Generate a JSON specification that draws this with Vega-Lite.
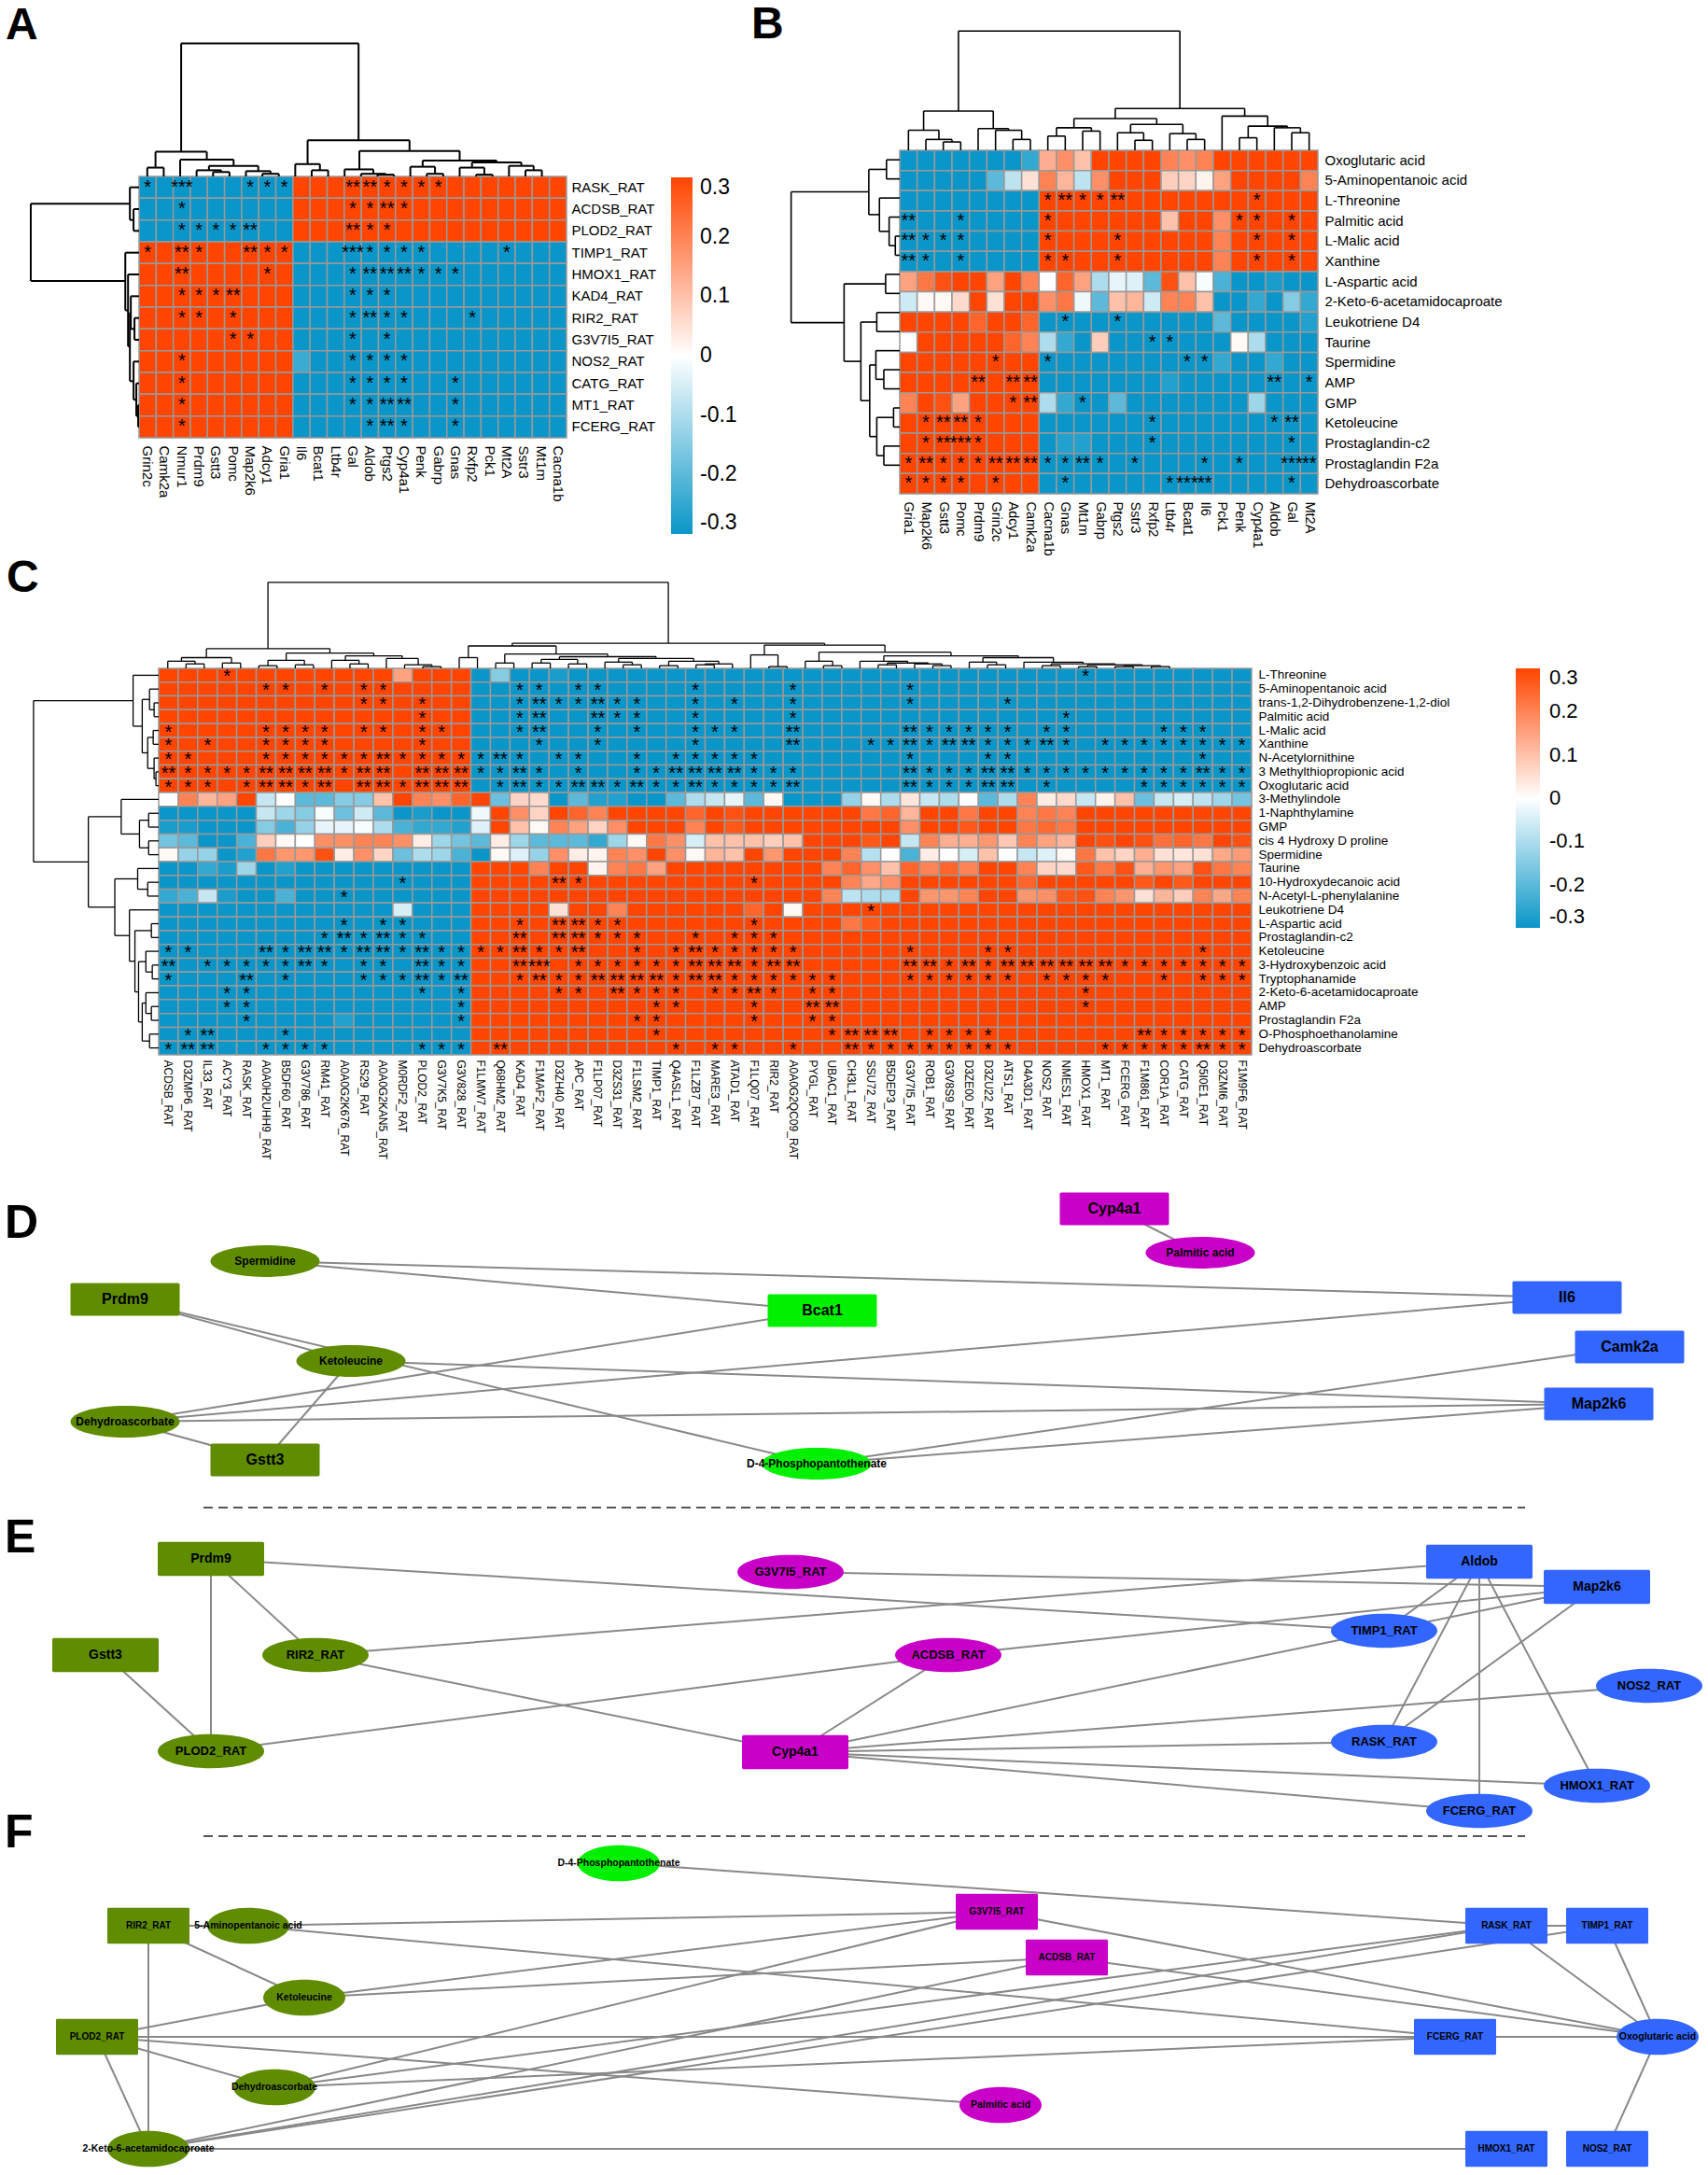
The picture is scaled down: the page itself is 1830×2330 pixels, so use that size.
{"$schema":"https://vega.github.io/schema/vega-lite/v6.json","padding":0,"spacing":0,"config":{"view":{"stroke":null},"font":"Liberation Sans","axis":{"labelFont":"Liberation Sans","labelColor":"#000","labelLimit":400},"legend":{"labelFont":"Liberation Sans","labelColor":"#000"}},
"vconcat":[{"spacing":0,"hconcat":[
{"width":800,"height":596,"title":{"text":"A","anchor":"start","frame":"group","offset":-52,"dx":6,"fontSize":48,"fontWeight":"bold","font":"Liberation Sans"},
"resolve":{"scale":{"x":"independent","y":"independent"},"axis":{"x":"independent","y":"independent"}},
"layer":[
{"data":{"values":[
{"r":0,"c":0,"v":-0.3,"s":"*"},{"r":0,"c":1,"v":-0.3},{"r":0,"c":2,"v":-0.3,"s":"***"},{"r":0,"c":3,"v":-0.3},{"r":0,"c":4,"v":-0.3},{"r":0,"c":5,"v":-0.3},{"r":0,"c":6,"v":-0.3,"s":"*"},{"r":0,"c":7,"v":-0.3,"s":"*"},{"r":0,"c":8,"v":-0.3,"s":"*"},{"r":0,"c":9,"v":0.3},{"r":0,"c":10,"v":0.3},{"r":0,"c":11,"v":0.3},{"r":0,"c":12,"v":0.3,"s":"**"},{"r":0,"c":13,"v":0.3,"s":"**"},{"r":0,"c":14,"v":0.3,"s":"*"},{"r":0,"c":15,"v":0.3,"s":"*"},{"r":0,"c":16,"v":0.3,"s":"*"},{"r":0,"c":17,"v":0.3,"s":"*"},{"r":0,"c":18,"v":0.3},{"r":0,"c":19,"v":0.3},{"r":0,"c":20,"v":0.3},{"r":0,"c":21,"v":0.3},{"r":0,"c":22,"v":0.3},{"r":0,"c":23,"v":0.3},{"r":0,"c":24,"v":0.3},
{"r":1,"c":0,"v":-0.3},{"r":1,"c":1,"v":-0.3},{"r":1,"c":2,"v":-0.3,"s":"*"},{"r":1,"c":3,"v":-0.3},{"r":1,"c":4,"v":-0.3},{"r":1,"c":5,"v":-0.3},{"r":1,"c":6,"v":-0.3},{"r":1,"c":7,"v":-0.3},{"r":1,"c":8,"v":-0.3},{"r":1,"c":9,"v":0.3},{"r":1,"c":10,"v":0.3},{"r":1,"c":11,"v":0.3},{"r":1,"c":12,"v":0.3,"s":"*"},{"r":1,"c":13,"v":0.3,"s":"*"},{"r":1,"c":14,"v":0.3,"s":"**"},{"r":1,"c":15,"v":0.3,"s":"*"},{"r":1,"c":16,"v":0.3},{"r":1,"c":17,"v":0.3},{"r":1,"c":18,"v":0.3},{"r":1,"c":19,"v":0.3},{"r":1,"c":20,"v":0.3},{"r":1,"c":21,"v":0.3},{"r":1,"c":22,"v":0.3},{"r":1,"c":23,"v":0.3},{"r":1,"c":24,"v":0.3},
{"r":2,"c":0,"v":-0.3},{"r":2,"c":1,"v":-0.3},{"r":2,"c":2,"v":-0.3,"s":"*"},{"r":2,"c":3,"v":-0.3,"s":"*"},{"r":2,"c":4,"v":-0.3,"s":"*"},{"r":2,"c":5,"v":-0.3,"s":"*"},{"r":2,"c":6,"v":-0.3,"s":"**"},{"r":2,"c":7,"v":-0.3},{"r":2,"c":8,"v":-0.3},{"r":2,"c":9,"v":0.3},{"r":2,"c":10,"v":0.3},{"r":2,"c":11,"v":0.3},{"r":2,"c":12,"v":0.3,"s":"**"},{"r":2,"c":13,"v":0.3,"s":"*"},{"r":2,"c":14,"v":0.3,"s":"*"},{"r":2,"c":15,"v":0.3},{"r":2,"c":16,"v":0.3},{"r":2,"c":17,"v":0.3},{"r":2,"c":18,"v":0.3},{"r":2,"c":19,"v":0.3},{"r":2,"c":20,"v":0.3},{"r":2,"c":21,"v":0.3},{"r":2,"c":22,"v":0.3},{"r":2,"c":23,"v":0.3},{"r":2,"c":24,"v":0.3},
{"r":3,"c":0,"v":0.3,"s":"*"},{"r":3,"c":1,"v":0.3},{"r":3,"c":2,"v":0.3,"s":"**"},{"r":3,"c":3,"v":0.3,"s":"*"},{"r":3,"c":4,"v":0.3},{"r":3,"c":5,"v":0.3},{"r":3,"c":6,"v":0.3,"s":"**"},{"r":3,"c":7,"v":0.3,"s":"*"},{"r":3,"c":8,"v":0.3,"s":"*"},{"r":3,"c":9,"v":-0.3},{"r":3,"c":10,"v":-0.3},{"r":3,"c":11,"v":-0.3},{"r":3,"c":12,"v":-0.3,"s":"***"},{"r":3,"c":13,"v":-0.3,"s":"*"},{"r":3,"c":14,"v":-0.3,"s":"*"},{"r":3,"c":15,"v":-0.3,"s":"*"},{"r":3,"c":16,"v":-0.3,"s":"*"},{"r":3,"c":17,"v":-0.3},{"r":3,"c":18,"v":-0.3},{"r":3,"c":19,"v":-0.3},{"r":3,"c":20,"v":-0.3},{"r":3,"c":21,"v":-0.3,"s":"*"},{"r":3,"c":22,"v":-0.3},{"r":3,"c":23,"v":-0.3},{"r":3,"c":24,"v":-0.3},
{"r":4,"c":0,"v":0.3},{"r":4,"c":1,"v":0.3},{"r":4,"c":2,"v":0.3,"s":"**"},{"r":4,"c":3,"v":0.3},{"r":4,"c":4,"v":0.3},{"r":4,"c":5,"v":0.3},{"r":4,"c":6,"v":0.3},{"r":4,"c":7,"v":0.3,"s":"*"},{"r":4,"c":8,"v":0.3},{"r":4,"c":9,"v":-0.3},{"r":4,"c":10,"v":-0.3},{"r":4,"c":11,"v":-0.3},{"r":4,"c":12,"v":-0.3,"s":"*"},{"r":4,"c":13,"v":-0.3,"s":"**"},{"r":4,"c":14,"v":-0.3,"s":"**"},{"r":4,"c":15,"v":-0.3,"s":"**"},{"r":4,"c":16,"v":-0.3,"s":"*"},{"r":4,"c":17,"v":-0.3,"s":"*"},{"r":4,"c":18,"v":-0.3,"s":"*"},{"r":4,"c":19,"v":-0.3},{"r":4,"c":20,"v":-0.3},{"r":4,"c":21,"v":-0.3},{"r":4,"c":22,"v":-0.3},{"r":4,"c":23,"v":-0.3},{"r":4,"c":24,"v":-0.3},
{"r":5,"c":0,"v":0.3},{"r":5,"c":1,"v":0.3},{"r":5,"c":2,"v":0.3,"s":"*"},{"r":5,"c":3,"v":0.3,"s":"*"},{"r":5,"c":4,"v":0.3,"s":"*"},{"r":5,"c":5,"v":0.3,"s":"**"},{"r":5,"c":6,"v":0.3},{"r":5,"c":7,"v":0.3},{"r":5,"c":8,"v":0.3},{"r":5,"c":9,"v":-0.3},{"r":5,"c":10,"v":-0.3},{"r":5,"c":11,"v":-0.3},{"r":5,"c":12,"v":-0.3,"s":"*"},{"r":5,"c":13,"v":-0.3,"s":"*"},{"r":5,"c":14,"v":-0.3,"s":"*"},{"r":5,"c":15,"v":-0.3},{"r":5,"c":16,"v":-0.3},{"r":5,"c":17,"v":-0.3},{"r":5,"c":18,"v":-0.3},{"r":5,"c":19,"v":-0.3},{"r":5,"c":20,"v":-0.3},{"r":5,"c":21,"v":-0.3},{"r":5,"c":22,"v":-0.3},{"r":5,"c":23,"v":-0.3},{"r":5,"c":24,"v":-0.3},
{"r":6,"c":0,"v":0.3},{"r":6,"c":1,"v":0.3},{"r":6,"c":2,"v":0.3,"s":"*"},{"r":6,"c":3,"v":0.3,"s":"*"},{"r":6,"c":4,"v":0.3},{"r":6,"c":5,"v":0.3,"s":"*"},{"r":6,"c":6,"v":0.3},{"r":6,"c":7,"v":0.3},{"r":6,"c":8,"v":0.3},{"r":6,"c":9,"v":-0.3},{"r":6,"c":10,"v":-0.3},{"r":6,"c":11,"v":-0.3},{"r":6,"c":12,"v":-0.3,"s":"*"},{"r":6,"c":13,"v":-0.3,"s":"**"},{"r":6,"c":14,"v":-0.3,"s":"*"},{"r":6,"c":15,"v":-0.3,"s":"*"},{"r":6,"c":16,"v":-0.3},{"r":6,"c":17,"v":-0.3},{"r":6,"c":18,"v":-0.3},{"r":6,"c":19,"v":-0.3,"s":"*"},{"r":6,"c":20,"v":-0.3},{"r":6,"c":21,"v":-0.3},{"r":6,"c":22,"v":-0.3},{"r":6,"c":23,"v":-0.3},{"r":6,"c":24,"v":-0.3},
{"r":7,"c":0,"v":0.3},{"r":7,"c":1,"v":0.3},{"r":7,"c":2,"v":0.3},{"r":7,"c":3,"v":0.3},{"r":7,"c":4,"v":0.3},{"r":7,"c":5,"v":0.3,"s":"*"},{"r":7,"c":6,"v":0.3,"s":"*"},{"r":7,"c":7,"v":0.3},{"r":7,"c":8,"v":0.3},{"r":7,"c":9,"v":-0.3},{"r":7,"c":10,"v":-0.3},{"r":7,"c":11,"v":-0.3},{"r":7,"c":12,"v":-0.3,"s":"*"},{"r":7,"c":13,"v":-0.3},{"r":7,"c":14,"v":-0.3,"s":"*"},{"r":7,"c":15,"v":-0.3},{"r":7,"c":16,"v":-0.3},{"r":7,"c":17,"v":-0.3},{"r":7,"c":18,"v":-0.3},{"r":7,"c":19,"v":-0.3},{"r":7,"c":20,"v":-0.3},{"r":7,"c":21,"v":-0.3},{"r":7,"c":22,"v":-0.3},{"r":7,"c":23,"v":-0.3},{"r":7,"c":24,"v":-0.3},
{"r":8,"c":0,"v":0.3},{"r":8,"c":1,"v":0.3},{"r":8,"c":2,"v":0.3,"s":"*"},{"r":8,"c":3,"v":0.3},{"r":8,"c":4,"v":0.3},{"r":8,"c":5,"v":0.3},{"r":8,"c":6,"v":0.3},{"r":8,"c":7,"v":0.3},{"r":8,"c":8,"v":0.3},{"r":8,"c":9,"v":-0.24},{"r":8,"c":10,"v":-0.3},{"r":8,"c":11,"v":-0.3},{"r":8,"c":12,"v":-0.3,"s":"*"},{"r":8,"c":13,"v":-0.3,"s":"*"},{"r":8,"c":14,"v":-0.3,"s":"*"},{"r":8,"c":15,"v":-0.3,"s":"*"},{"r":8,"c":16,"v":-0.3},{"r":8,"c":17,"v":-0.3},{"r":8,"c":18,"v":-0.3},{"r":8,"c":19,"v":-0.3},{"r":8,"c":20,"v":-0.3},{"r":8,"c":21,"v":-0.3},{"r":8,"c":22,"v":-0.3},{"r":8,"c":23,"v":-0.3},{"r":8,"c":24,"v":-0.3},
{"r":9,"c":0,"v":0.3},{"r":9,"c":1,"v":0.3},{"r":9,"c":2,"v":0.3,"s":"*"},{"r":9,"c":3,"v":0.3},{"r":9,"c":4,"v":0.3},{"r":9,"c":5,"v":0.3},{"r":9,"c":6,"v":0.3},{"r":9,"c":7,"v":0.3},{"r":9,"c":8,"v":0.3},{"r":9,"c":9,"v":-0.3},{"r":9,"c":10,"v":-0.3},{"r":9,"c":11,"v":-0.3},{"r":9,"c":12,"v":-0.3,"s":"*"},{"r":9,"c":13,"v":-0.3,"s":"*"},{"r":9,"c":14,"v":-0.3,"s":"*"},{"r":9,"c":15,"v":-0.3,"s":"*"},{"r":9,"c":16,"v":-0.3},{"r":9,"c":17,"v":-0.3},{"r":9,"c":18,"v":-0.3,"s":"*"},{"r":9,"c":19,"v":-0.3},{"r":9,"c":20,"v":-0.3},{"r":9,"c":21,"v":-0.3},{"r":9,"c":22,"v":-0.3},{"r":9,"c":23,"v":-0.3},{"r":9,"c":24,"v":-0.3},
{"r":10,"c":0,"v":0.3},{"r":10,"c":1,"v":0.3},{"r":10,"c":2,"v":0.3,"s":"*"},{"r":10,"c":3,"v":0.3},{"r":10,"c":4,"v":0.3},{"r":10,"c":5,"v":0.3},{"r":10,"c":6,"v":0.3},{"r":10,"c":7,"v":0.3},{"r":10,"c":8,"v":0.3},{"r":10,"c":9,"v":-0.3},{"r":10,"c":10,"v":-0.3},{"r":10,"c":11,"v":-0.3},{"r":10,"c":12,"v":-0.3,"s":"*"},{"r":10,"c":13,"v":-0.3,"s":"*"},{"r":10,"c":14,"v":-0.3,"s":"**"},{"r":10,"c":15,"v":-0.3,"s":"**"},{"r":10,"c":16,"v":-0.3},{"r":10,"c":17,"v":-0.3},{"r":10,"c":18,"v":-0.3,"s":"*"},{"r":10,"c":19,"v":-0.3},{"r":10,"c":20,"v":-0.3},{"r":10,"c":21,"v":-0.3},{"r":10,"c":22,"v":-0.3},{"r":10,"c":23,"v":-0.3},{"r":10,"c":24,"v":-0.3},
{"r":11,"c":0,"v":0.3},{"r":11,"c":1,"v":0.3},{"r":11,"c":2,"v":0.3,"s":"*"},{"r":11,"c":3,"v":0.3},{"r":11,"c":4,"v":0.3},{"r":11,"c":5,"v":0.3},{"r":11,"c":6,"v":0.3},{"r":11,"c":7,"v":0.3},{"r":11,"c":8,"v":0.3},{"r":11,"c":9,"v":-0.3},{"r":11,"c":10,"v":-0.3},{"r":11,"c":11,"v":-0.3},{"r":11,"c":12,"v":-0.3},{"r":11,"c":13,"v":-0.3,"s":"*"},{"r":11,"c":14,"v":-0.3,"s":"**"},{"r":11,"c":15,"v":-0.3,"s":"*"},{"r":11,"c":16,"v":-0.3},{"r":11,"c":17,"v":-0.3},{"r":11,"c":18,"v":-0.3,"s":"*"},{"r":11,"c":19,"v":-0.3},{"r":11,"c":20,"v":-0.3},{"r":11,"c":21,"v":-0.3},{"r":11,"c":22,"v":-0.3},{"r":11,"c":23,"v":-0.3},{"r":11,"c":24,"v":-0.3}
]},
"layer":[{"mark":{"type":"rect","stroke":"#999","strokeWidth":1.5},"encoding":{
"x":{"field":"c","type":"ordinal","scale":{"domain":[0,1,2,3,4,5,6,7,8,9,10,11,12,13,14,15,16,17,18,19,20,21,22,23,24],"range":[149,607]},"axis":{"orient":"bottom","title":null,"domain":false,"ticks":false,"labelAngle":90,"labelFontSize":15,"labelPadding":8,"offset":-127,"labelExpr":"['Grin2c','Camk2a','Nmur1','Prdm9','Gstt3','Pomc','Map2k6','Adcy1','Gria1','Il6','Bcat1','Ltb4r','Gal','Aldob','Ptgs2','Cyp4a1','Penk','Gabrp','Gnas','Rxfp2','Pck1','Mt2A','Sstr3','Mt1m','Cacna1b'][datum.value]"}},
"y":{"field":"r","type":"ordinal","scale":{"domain":[0,1,2,3,4,5,6,7,8,9,10,11],"range":[189,469]},"axis":{"orient":"right","title":null,"domain":false,"ticks":false,"labelFontSize":15,"labelPadding":5,"offset":-193,"labelExpr":"['RASK_RAT','ACDSB_RAT','PLOD2_RAT','TIMP1_RAT','HMOX1_RAT','KAD4_RAT','RIR2_RAT','G3V7I5_RAT','NOS2_RAT','CATG_RAT','MT1_RAT','FCERG_RAT'][datum.value]"}},
"color":{"field":"v","type":"quantitative","scale":{"domain":[-0.3,0,0.3],"range":["#0a96c8","#ffffff","#ff4500"],"clamp":true,"interpolate":"rgb"},"legend":{"orient":"none","legendX":719,"legendY":190,"direction":"vertical","title":null,"gradientLength":382,"gradientThickness":23,"labelFontSize":23,"labelOffset":8,"labelBaseline":"middle","labelOverlap":false,"values":[-0.3,-0.2,-0.1,0,0.1,0.2,0.3],"labelExpr":"''+datum.value"}}}},
{"transform":[{"filter":"datum.s"}],"mark":{"type":"text","fontSize":20,"baseline":"middle","color":"#000"},"encoding":{"x":{"field":"c","type":"ordinal"},"y":{"field":"r","type":"ordinal"},"text":{"field":"s"}}}]},
{"data":{"values":[{"a":0.5,"b":1.5,"h":10,"ha":0,"hb":0},{"a":4.5,"b":5.5,"h":5,"ha":0,"hb":0},{"a":3.5,"b":5,"h":7,"ha":0,"hb":5},{"a":7.5,"b":8.5,"h":3,"ha":0,"hb":0},{"a":6.5,"b":8,"h":6,"ha":0,"hb":3},{"a":4.25,"b":7.25,"h":12,"ha":7,"hb":6},{"a":2.5,"b":5.75,"h":19,"ha":0,"hb":12},{"a":1,"b":4.12,"h":28,"ha":10,"hb":19},{"a":10.5,"b":11.5,"h":7,"ha":0,"hb":0},{"a":9.5,"b":11,"h":14,"ha":0,"hb":7},{"a":14.5,"b":15.5,"h":2,"ha":0,"hb":0},{"a":13.5,"b":15,"h":3,"ha":0,"hb":2},{"a":12.5,"b":14.25,"h":8,"ha":0,"hb":3},{"a":17.5,"b":18.5,"h":3,"ha":0,"hb":0},{"a":16.5,"b":18,"h":11,"ha":0,"hb":3},{"a":20.5,"b":21.5,"h":2,"ha":0,"hb":0},{"a":19.5,"b":21,"h":10,"ha":0,"hb":2},{"a":23.5,"b":24.5,"h":7,"ha":0,"hb":0},{"a":22.5,"b":24,"h":12,"ha":0,"hb":7},{"a":20.25,"b":23.25,"h":16,"ha":10,"hb":12},{"a":17.25,"b":21.75,"h":18,"ha":11,"hb":16},{"a":13.4,"b":19.5,"h":29,"ha":8,"hb":18},{"a":10.25,"b":16.45,"h":41,"ha":14,"hb":29},{"a":2.56,"b":13.35,"h":151,"ha":28,"hb":41}]},
"layer":[{"mark":{"type":"rule","stroke":"#000","strokeWidth":2},"encoding":{"x":{"field":"a","type":"quantitative","scale":{"domain":[0,25],"range":[149,607]},"axis":null},"x2":{"field":"b"},"y":{"field":"h","type":"quantitative","scale":{"domain":[0,151],"range":[189,38]},"axis":null}}},
{"mark":{"type":"rule","stroke":"#000","strokeWidth":2},"encoding":{"x":{"field":"a","type":"quantitative"},"y":{"field":"h","type":"quantitative"},"y2":{"field":"ha"}}},
{"mark":{"type":"rule","stroke":"#000","strokeWidth":2},"encoding":{"x":{"field":"b","type":"quantitative"},"y":{"field":"h","type":"quantitative"},"y2":{"field":"hb"}}}]},
{"data":{"values":[{"a":1.5,"b":2.5,"h":6,"ha":0,"hb":0},{"a":0.5,"b":2,"h":10,"ha":0,"hb":6},{"a":10.5,"b":11.5,"h":1,"ha":0,"hb":0},{"a":9.5,"b":11,"h":3,"ha":0,"hb":1},{"a":8.5,"b":10.25,"h":6,"ha":0,"hb":3},{"a":6.5,"b":7.5,"h":5,"ha":0,"hb":0},{"a":5.5,"b":7,"h":9,"ha":0,"hb":5},{"a":6.25,"b":9.4,"h":10,"ha":9,"hb":6},{"a":4.5,"b":7.8,"h":12,"ha":0,"hb":10},{"a":3.5,"b":6.15,"h":15,"ha":0,"hb":12},{"a":1.25,"b":4.8,"h":118,"ha":10,"hb":15}]},
"layer":[{"mark":{"type":"rule","stroke":"#000","strokeWidth":2},"encoding":{"y":{"field":"a","type":"quantitative","scale":{"domain":[0,12],"range":[189,469]},"axis":null},"y2":{"field":"b"},"x":{"field":"h","type":"quantitative","scale":{"domain":[0,118],"range":[149,31]},"axis":null}}},
{"mark":{"type":"rule","stroke":"#000","strokeWidth":2},"encoding":{"y":{"field":"a","type":"quantitative"},"x":{"field":"h","type":"quantitative"},"x2":{"field":"ha"}}},
{"mark":{"type":"rule","stroke":"#000","strokeWidth":2},"encoding":{"y":{"field":"b","type":"quantitative"},"x":{"field":"h","type":"quantitative"},"x2":{"field":"hb"}}}]}
]},
{"width":1030,"height":596,"title":{"text":"B","anchor":"start","frame":"group","offset":-51,"dx":5,"fontSize":48,"fontWeight":"bold","font":"Liberation Sans"},
"resolve":{"scale":{"x":"independent","y":"independent"},"axis":{"x":"independent","y":"independent"}},
"layer":[
{"data":{"values":[
{"r":0,"c":0,"v":-0.3},{"r":0,"c":1,"v":-0.3},{"r":0,"c":2,"v":-0.3},{"r":0,"c":3,"v":-0.3},{"r":0,"c":4,"v":-0.3},{"r":0,"c":5,"v":-0.3},{"r":0,"c":6,"v":-0.3},{"r":0,"c":7,"v":-0.25},{"r":0,"c":8,"v":0.13},{"r":0,"c":9,"v":0.18},{"r":0,"c":10,"v":0.1},{"r":0,"c":11,"v":0.3},{"r":0,"c":12,"v":0.3},{"r":0,"c":13,"v":0.3},{"r":0,"c":14,"v":0.3},{"r":0,"c":15,"v":0.2},{"r":0,"c":16,"v":0.18},{"r":0,"c":17,"v":0.2},{"r":0,"c":18,"v":0.3},{"r":0,"c":19,"v":0.3},{"r":0,"c":20,"v":0.3},{"r":0,"c":21,"v":0.3},{"r":0,"c":22,"v":0.3},{"r":0,"c":23,"v":0.3},
{"r":1,"c":0,"v":-0.3},{"r":1,"c":1,"v":-0.3},{"r":1,"c":2,"v":-0.3},{"r":1,"c":3,"v":-0.3},{"r":1,"c":4,"v":-0.3},{"r":1,"c":5,"v":-0.2},{"r":1,"c":6,"v":-0.08},{"r":1,"c":7,"v":0.05},{"r":1,"c":8,"v":0.2},{"r":1,"c":9,"v":0.12},{"r":1,"c":10,"v":-0.08},{"r":1,"c":11,"v":0.18},{"r":1,"c":12,"v":0.3},{"r":1,"c":13,"v":0.3},{"r":1,"c":14,"v":0.3},{"r":1,"c":15,"v":0.08},{"r":1,"c":16,"v":0.07},{"r":1,"c":17,"v":0.02},{"r":1,"c":18,"v":0.15},{"r":1,"c":19,"v":0.3},{"r":1,"c":20,"v":0.3},{"r":1,"c":21,"v":0.3},{"r":1,"c":22,"v":0.3},{"r":1,"c":23,"v":0.2},
{"r":2,"c":0,"v":-0.3},{"r":2,"c":1,"v":-0.3},{"r":2,"c":2,"v":-0.3},{"r":2,"c":3,"v":-0.3},{"r":2,"c":4,"v":-0.3},{"r":2,"c":5,"v":-0.3},{"r":2,"c":6,"v":-0.3},{"r":2,"c":7,"v":-0.3},{"r":2,"c":8,"v":0.3,"s":"*"},{"r":2,"c":9,"v":0.3,"s":"**"},{"r":2,"c":10,"v":0.3,"s":"*"},{"r":2,"c":11,"v":0.3,"s":"*"},{"r":2,"c":12,"v":0.3,"s":"**"},{"r":2,"c":13,"v":0.3},{"r":2,"c":14,"v":0.3},{"r":2,"c":15,"v":0.3},{"r":2,"c":16,"v":0.3},{"r":2,"c":17,"v":0.3},{"r":2,"c":18,"v":0.3},{"r":2,"c":19,"v":0.3},{"r":2,"c":20,"v":0.3,"s":"*"},{"r":2,"c":21,"v":0.3},{"r":2,"c":22,"v":0.3},{"r":2,"c":23,"v":0.3},
{"r":3,"c":0,"v":-0.3,"s":"**"},{"r":3,"c":1,"v":-0.3},{"r":3,"c":2,"v":-0.3},{"r":3,"c":3,"v":-0.3,"s":"*"},{"r":3,"c":4,"v":-0.3},{"r":3,"c":5,"v":-0.3},{"r":3,"c":6,"v":-0.3},{"r":3,"c":7,"v":-0.3},{"r":3,"c":8,"v":0.3,"s":"*"},{"r":3,"c":9,"v":0.3},{"r":3,"c":10,"v":0.3},{"r":3,"c":11,"v":0.3},{"r":3,"c":12,"v":0.3},{"r":3,"c":13,"v":0.3},{"r":3,"c":14,"v":0.3},{"r":3,"c":15,"v":0.1},{"r":3,"c":16,"v":0.3},{"r":3,"c":17,"v":0.3},{"r":3,"c":18,"v":0.18},{"r":3,"c":19,"v":0.3,"s":"*"},{"r":3,"c":20,"v":0.3,"s":"*"},{"r":3,"c":21,"v":0.3},{"r":3,"c":22,"v":0.3,"s":"*"},{"r":3,"c":23,"v":0.3},
{"r":4,"c":0,"v":-0.3,"s":"**"},{"r":4,"c":1,"v":-0.3,"s":"*"},{"r":4,"c":2,"v":-0.3,"s":"*"},{"r":4,"c":3,"v":-0.3,"s":"*"},{"r":4,"c":4,"v":-0.3},{"r":4,"c":5,"v":-0.3},{"r":4,"c":6,"v":-0.3},{"r":4,"c":7,"v":-0.3},{"r":4,"c":8,"v":0.3,"s":"*"},{"r":4,"c":9,"v":0.3},{"r":4,"c":10,"v":0.3},{"r":4,"c":11,"v":0.3},{"r":4,"c":12,"v":0.3,"s":"*"},{"r":4,"c":13,"v":0.3},{"r":4,"c":14,"v":0.3},{"r":4,"c":15,"v":0.3},{"r":4,"c":16,"v":0.3},{"r":4,"c":17,"v":0.3},{"r":4,"c":18,"v":0.2},{"r":4,"c":19,"v":0.3},{"r":4,"c":20,"v":0.3,"s":"*"},{"r":4,"c":21,"v":0.3},{"r":4,"c":22,"v":0.3,"s":"*"},{"r":4,"c":23,"v":0.3},
{"r":5,"c":0,"v":-0.3,"s":"**"},{"r":5,"c":1,"v":-0.3,"s":"*"},{"r":5,"c":2,"v":-0.3},{"r":5,"c":3,"v":-0.3,"s":"*"},{"r":5,"c":4,"v":-0.3},{"r":5,"c":5,"v":-0.3},{"r":5,"c":6,"v":-0.3},{"r":5,"c":7,"v":-0.3},{"r":5,"c":8,"v":0.3,"s":"*"},{"r":5,"c":9,"v":0.3,"s":"*"},{"r":5,"c":10,"v":0.3},{"r":5,"c":11,"v":0.3},{"r":5,"c":12,"v":0.3,"s":"*"},{"r":5,"c":13,"v":0.3},{"r":5,"c":14,"v":0.3},{"r":5,"c":15,"v":0.3},{"r":5,"c":16,"v":0.3},{"r":5,"c":17,"v":0.3},{"r":5,"c":18,"v":0.2},{"r":5,"c":19,"v":0.3},{"r":5,"c":20,"v":0.3,"s":"*"},{"r":5,"c":21,"v":0.3},{"r":5,"c":22,"v":0.3,"s":"*"},{"r":5,"c":23,"v":0.3},
{"r":6,"c":0,"v":0.15},{"r":6,"c":1,"v":0.22},{"r":6,"c":2,"v":0.28},{"r":6,"c":3,"v":0.3},{"r":6,"c":4,"v":0.3},{"r":6,"c":5,"v":0.15},{"r":6,"c":6,"v":0.3},{"r":6,"c":7,"v":0.2},{"r":6,"c":8,"v":0},{"r":6,"c":9,"v":0.25},{"r":6,"c":10,"v":0.15},{"r":6,"c":11,"v":-0.1},{"r":6,"c":12,"v":-0.03},{"r":6,"c":13,"v":-0.04},{"r":6,"c":14,"v":-0.2},{"r":6,"c":15,"v":0.28},{"r":6,"c":16,"v":0.1},{"r":6,"c":17,"v":-0.01},{"r":6,"c":18,"v":-0.22},{"r":6,"c":19,"v":-0.3},{"r":6,"c":20,"v":-0.3},{"r":6,"c":21,"v":-0.28},{"r":6,"c":22,"v":-0.3},{"r":6,"c":23,"v":-0.3},
{"r":7,"c":0,"v":-0.06},{"r":7,"c":1,"v":0.01},{"r":7,"c":2,"v":0.01},{"r":7,"c":3,"v":0.06},{"r":7,"c":4,"v":0.3},{"r":7,"c":5,"v":0.05},{"r":7,"c":6,"v":0.3},{"r":7,"c":7,"v":0.3},{"r":7,"c":8,"v":0.18},{"r":7,"c":9,"v":0.22},{"r":7,"c":10,"v":-0.02},{"r":7,"c":11,"v":-0.2},{"r":7,"c":12,"v":0.1},{"r":7,"c":13,"v":0.12},{"r":7,"c":14,"v":-0.06},{"r":7,"c":15,"v":0.2},{"r":7,"c":16,"v":0.2},{"r":7,"c":17,"v":0.1},{"r":7,"c":18,"v":-0.3},{"r":7,"c":19,"v":-0.3},{"r":7,"c":20,"v":-0.25},{"r":7,"c":21,"v":-0.3},{"r":7,"c":22,"v":-0.15},{"r":7,"c":23,"v":-0.25},
{"r":8,"c":0,"v":0.3},{"r":8,"c":1,"v":0.3},{"r":8,"c":2,"v":0.3},{"r":8,"c":3,"v":0.3},{"r":8,"c":4,"v":0.25},{"r":8,"c":5,"v":0.3},{"r":8,"c":6,"v":0.3},{"r":8,"c":7,"v":0.25},{"r":8,"c":8,"v":-0.3},{"r":8,"c":9,"v":-0.3,"s":"*"},{"r":8,"c":10,"v":-0.3},{"r":8,"c":11,"v":-0.3},{"r":8,"c":12,"v":-0.3,"s":"*"},{"r":8,"c":13,"v":-0.3},{"r":8,"c":14,"v":-0.3},{"r":8,"c":15,"v":-0.3},{"r":8,"c":16,"v":-0.3},{"r":8,"c":17,"v":-0.3},{"r":8,"c":18,"v":-0.2},{"r":8,"c":19,"v":-0.3},{"r":8,"c":20,"v":-0.3},{"r":8,"c":21,"v":-0.3},{"r":8,"c":22,"v":-0.3},{"r":8,"c":23,"v":-0.27},
{"r":9,"c":0,"v":0},{"r":9,"c":1,"v":0.3},{"r":9,"c":2,"v":0.3},{"r":9,"c":3,"v":0.3},{"r":9,"c":4,"v":0.3},{"r":9,"c":5,"v":0.3},{"r":9,"c":6,"v":0.25},{"r":9,"c":7,"v":0.2},{"r":9,"c":8,"v":-0.1},{"r":9,"c":9,"v":-0.25},{"r":9,"c":10,"v":-0.3},{"r":9,"c":11,"v":0.08},{"r":9,"c":12,"v":-0.3},{"r":9,"c":13,"v":-0.3},{"r":9,"c":14,"v":-0.3,"s":"*"},{"r":9,"c":15,"v":-0.3,"s":"*"},{"r":9,"c":16,"v":-0.3},{"r":9,"c":17,"v":-0.3},{"r":9,"c":18,"v":-0.3},{"r":9,"c":19,"v":0.01},{"r":9,"c":20,"v":-0.1},{"r":9,"c":21,"v":-0.3},{"r":9,"c":22,"v":-0.3},{"r":9,"c":23,"v":-0.3},
{"r":10,"c":0,"v":0.3},{"r":10,"c":1,"v":0.3},{"r":10,"c":2,"v":0.3},{"r":10,"c":3,"v":0.3},{"r":10,"c":4,"v":0.3},{"r":10,"c":5,"v":0.3,"s":"*"},{"r":10,"c":6,"v":0.3},{"r":10,"c":7,"v":0.3},{"r":10,"c":8,"v":-0.3,"s":"*"},{"r":10,"c":9,"v":-0.3},{"r":10,"c":10,"v":-0.3},{"r":10,"c":11,"v":-0.3},{"r":10,"c":12,"v":-0.3},{"r":10,"c":13,"v":-0.3},{"r":10,"c":14,"v":-0.3},{"r":10,"c":15,"v":-0.3},{"r":10,"c":16,"v":-0.3,"s":"*"},{"r":10,"c":17,"v":-0.3,"s":"*"},{"r":10,"c":18,"v":-0.25},{"r":10,"c":19,"v":-0.3},{"r":10,"c":20,"v":-0.3},{"r":10,"c":21,"v":-0.25},{"r":10,"c":22,"v":-0.3},{"r":10,"c":23,"v":-0.3},
{"r":11,"c":0,"v":0.3},{"r":11,"c":1,"v":0.3},{"r":11,"c":2,"v":0.3},{"r":11,"c":3,"v":0.3},{"r":11,"c":4,"v":0.3,"s":"**"},{"r":11,"c":5,"v":0.3},{"r":11,"c":6,"v":0.3,"s":"**"},{"r":11,"c":7,"v":0.3,"s":"**"},{"r":11,"c":8,"v":-0.3},{"r":11,"c":9,"v":-0.3},{"r":11,"c":10,"v":-0.3},{"r":11,"c":11,"v":-0.3},{"r":11,"c":12,"v":-0.3},{"r":11,"c":13,"v":-0.3},{"r":11,"c":14,"v":-0.3},{"r":11,"c":15,"v":-0.27},{"r":11,"c":16,"v":-0.3},{"r":11,"c":17,"v":-0.3},{"r":11,"c":18,"v":-0.3},{"r":11,"c":19,"v":-0.3},{"r":11,"c":20,"v":-0.3},{"r":11,"c":21,"v":-0.3,"s":"**"},{"r":11,"c":22,"v":-0.3},{"r":11,"c":23,"v":-0.3,"s":"*"},
{"r":12,"c":0,"v":0.2},{"r":12,"c":1,"v":0.3},{"r":12,"c":2,"v":0.28},{"r":12,"c":3,"v":0.15},{"r":12,"c":4,"v":0.3},{"r":12,"c":5,"v":0.3},{"r":12,"c":6,"v":0.3,"s":"*"},{"r":12,"c":7,"v":0.3,"s":"**"},{"r":12,"c":8,"v":-0.1},{"r":12,"c":9,"v":-0.25},{"r":12,"c":10,"v":-0.3,"s":"*"},{"r":12,"c":11,"v":-0.3},{"r":12,"c":12,"v":-0.2},{"r":12,"c":13,"v":-0.3},{"r":12,"c":14,"v":-0.3},{"r":12,"c":15,"v":-0.3},{"r":12,"c":16,"v":-0.3},{"r":12,"c":17,"v":-0.3},{"r":12,"c":18,"v":-0.3},{"r":12,"c":19,"v":-0.3},{"r":12,"c":20,"v":-0.12},{"r":12,"c":21,"v":-0.3},{"r":12,"c":22,"v":-0.3},{"r":12,"c":23,"v":-0.3},
{"r":13,"c":0,"v":0.3},{"r":13,"c":1,"v":0.3,"s":"*"},{"r":13,"c":2,"v":0.3,"s":"**"},{"r":13,"c":3,"v":0.3,"s":"**"},{"r":13,"c":4,"v":0.3,"s":"*"},{"r":13,"c":5,"v":0.3},{"r":13,"c":6,"v":0.3},{"r":13,"c":7,"v":0.3},{"r":13,"c":8,"v":-0.3},{"r":13,"c":9,"v":-0.3},{"r":13,"c":10,"v":-0.3},{"r":13,"c":11,"v":-0.3},{"r":13,"c":12,"v":-0.3},{"r":13,"c":13,"v":-0.3},{"r":13,"c":14,"v":-0.3,"s":"*"},{"r":13,"c":15,"v":-0.3},{"r":13,"c":16,"v":-0.3},{"r":13,"c":17,"v":-0.3},{"r":13,"c":18,"v":-0.3},{"r":13,"c":19,"v":-0.3},{"r":13,"c":20,"v":-0.3},{"r":13,"c":21,"v":-0.3,"s":"*"},{"r":13,"c":22,"v":-0.3,"s":"**"},{"r":13,"c":23,"v":-0.3},
{"r":14,"c":0,"v":0.3},{"r":14,"c":1,"v":0.3,"s":"*"},{"r":14,"c":2,"v":0.3,"s":"**"},{"r":14,"c":3,"v":0.3,"s":"***"},{"r":14,"c":4,"v":0.3,"s":"*"},{"r":14,"c":5,"v":0.3},{"r":14,"c":6,"v":0.3},{"r":14,"c":7,"v":0.3},{"r":14,"c":8,"v":-0.3},{"r":14,"c":9,"v":-0.27},{"r":14,"c":10,"v":-0.27},{"r":14,"c":11,"v":-0.3},{"r":14,"c":12,"v":-0.3},{"r":14,"c":13,"v":-0.3},{"r":14,"c":14,"v":-0.3,"s":"*"},{"r":14,"c":15,"v":-0.3},{"r":14,"c":16,"v":-0.3},{"r":14,"c":17,"v":-0.3},{"r":14,"c":18,"v":-0.3},{"r":14,"c":19,"v":-0.3},{"r":14,"c":20,"v":-0.3},{"r":14,"c":21,"v":-0.3},{"r":14,"c":22,"v":-0.3,"s":"*"},{"r":14,"c":23,"v":-0.3},
{"r":15,"c":0,"v":0.3,"s":"*"},{"r":15,"c":1,"v":0.3,"s":"**"},{"r":15,"c":2,"v":0.3,"s":"*"},{"r":15,"c":3,"v":0.3,"s":"*"},{"r":15,"c":4,"v":0.3,"s":"*"},{"r":15,"c":5,"v":0.3,"s":"**"},{"r":15,"c":6,"v":0.3,"s":"**"},{"r":15,"c":7,"v":0.3,"s":"**"},{"r":15,"c":8,"v":-0.3,"s":"*"},{"r":15,"c":9,"v":-0.3,"s":"*"},{"r":15,"c":10,"v":-0.3,"s":"**"},{"r":15,"c":11,"v":-0.3,"s":"*"},{"r":15,"c":12,"v":-0.3},{"r":15,"c":13,"v":-0.3,"s":"*"},{"r":15,"c":14,"v":-0.3},{"r":15,"c":15,"v":-0.3},{"r":15,"c":16,"v":-0.3},{"r":15,"c":17,"v":-0.3,"s":"*"},{"r":15,"c":18,"v":-0.3},{"r":15,"c":19,"v":-0.3,"s":"*"},{"r":15,"c":20,"v":-0.3},{"r":15,"c":21,"v":-0.3},{"r":15,"c":22,"v":-0.3,"s":"***"},{"r":15,"c":23,"v":-0.3,"s":"**"},
{"r":16,"c":0,"v":0.3,"s":"*"},{"r":16,"c":1,"v":0.3,"s":"*"},{"r":16,"c":2,"v":0.3,"s":"*"},{"r":16,"c":3,"v":0.3,"s":"*"},{"r":16,"c":4,"v":0.3},{"r":16,"c":5,"v":0.3,"s":"*"},{"r":16,"c":6,"v":0.3},{"r":16,"c":7,"v":0.3},{"r":16,"c":8,"v":-0.3},{"r":16,"c":9,"v":-0.3,"s":"*"},{"r":16,"c":10,"v":-0.3},{"r":16,"c":11,"v":-0.3},{"r":16,"c":12,"v":-0.3},{"r":16,"c":13,"v":-0.3},{"r":16,"c":14,"v":-0.3},{"r":16,"c":15,"v":-0.3,"s":"*"},{"r":16,"c":16,"v":-0.3,"s":"***"},{"r":16,"c":17,"v":-0.3,"s":"**"},{"r":16,"c":18,"v":-0.3},{"r":16,"c":19,"v":-0.3},{"r":16,"c":20,"v":-0.3},{"r":16,"c":21,"v":-0.3},{"r":16,"c":22,"v":-0.3,"s":"*"},{"r":16,"c":23,"v":-0.3}
]},
"layer":[{"mark":{"type":"rect","stroke":"#999","strokeWidth":1.5},"encoding":{
"x":{"field":"c","type":"ordinal","scale":{"domain":[0,1,2,3,4,5,6,7,8,9,10,11,12,13,14,15,16,17,18,19,20,21,22,23],"range":[164,612]},"axis":{"orient":"bottom","title":null,"domain":false,"ticks":false,"labelAngle":90,"labelFontSize":14.5,"labelPadding":8,"offset":-67,"labelExpr":"['Gria1','Map2k6','Gstt3','Pomc','Prdm9','Grin2c','Adcy1','Camk2a','Cacna1b','Gnas','Mt1m','Gabrp','Ptgs2','Sstr3','Rxfp2','Ltb4r','Bcat1','Il6','Pck1','Penk','Cyp4a1','Aldob','Gal','Mt2A'][datum.value]"}},
"y":{"field":"r","type":"ordinal","scale":{"domain":[0,1,2,3,4,5,6,7,8,9,10,11,12,13,14,15,16],"range":[161,529]},"axis":{"orient":"right","title":null,"domain":false,"ticks":false,"labelFontSize":15,"labelPadding":7,"offset":-418,"labelExpr":"['Oxoglutaric acid','5-Aminopentanoic acid','L-Threonine','Palmitic acid','L-Malic acid','Xanthine','L-Aspartic acid','2-Keto-6-acetamidocaproate','Leukotriene D4','Taurine','Spermidine','AMP','GMP','Ketoleucine','Prostaglandin-c2','Prostaglandin F2a','Dehydroascorbate'][datum.value]"}},
"color":{"field":"v","type":"quantitative","scale":{"domain":[-0.3,0,0.3],"range":["#0a96c8","#ffffff","#ff4500"],"clamp":true,"interpolate":"rgb"},"legend":{"orient":"none","legendX":828,"legendY":161,"direction":"vertical","title":null,"gradientLength":404,"gradientThickness":23,"labelFontSize":23,"labelOffset":8,"labelBaseline":"middle","labelOverlap":false,"values":[-0.3,-0.2,-0.1,0,0.1,0.2,0.3],"labelExpr":"''+datum.value"}}}},
{"transform":[{"filter":"datum.s"}],"mark":{"type":"text","fontSize":20,"baseline":"middle","color":"#000"},"encoding":{"x":{"field":"c","type":"ordinal"},"y":{"field":"r","type":"ordinal"},"text":{"field":"s"}}}]},
{"data":{"values":[{"a":2.5,"b":3.5,"h":10,"ha":0,"hb":0},{"a":1.5,"b":3,"h":13,"ha":0,"hb":10},{"a":0.5,"b":2.25,"h":24,"ha":0,"hb":13},{"a":6.5,"b":7.5,"h":13,"ha":0,"hb":0},{"a":5.5,"b":7,"h":24,"ha":0,"hb":13},{"a":4.5,"b":6.25,"h":26,"ha":0,"hb":24},{"a":1.37,"b":5.37,"h":47,"ha":24,"hb":26},{"a":8.5,"b":9.5,"h":17,"ha":0,"hb":0},{"a":10.5,"b":11.5,"h":23,"ha":0,"hb":0},{"a":9,"b":11,"h":27,"ha":17,"hb":23},{"a":13.5,"b":14.5,"h":12,"ha":0,"hb":0},{"a":12.5,"b":14,"h":21,"ha":0,"hb":12},{"a":16.5,"b":17.5,"h":13,"ha":0,"hb":0},{"a":15.5,"b":17,"h":20,"ha":0,"hb":13},{"a":13.25,"b":16.25,"h":31,"ha":21,"hb":20},{"a":10,"b":14.75,"h":38,"ha":27,"hb":31},{"a":19.5,"b":20.5,"h":15,"ha":0,"hb":0},{"a":22.5,"b":23.5,"h":21,"ha":0,"hb":0},{"a":21.5,"b":23,"h":27,"ha":0,"hb":21},{"a":20,"b":22.25,"h":29,"ha":15,"hb":27},{"a":18.5,"b":21.12,"h":41,"ha":0,"hb":29},{"a":12.37,"b":19.8,"h":50,"ha":38,"hb":41},{"a":3.37,"b":16.08,"h":143,"ha":47,"hb":50}]},
"layer":[{"mark":{"type":"rule","stroke":"#000","strokeWidth":1.6},"encoding":{"x":{"field":"a","type":"quantitative","scale":{"domain":[0,24],"range":[164,612]},"axis":null},"x2":{"field":"b"},"y":{"field":"h","type":"quantitative","scale":{"domain":[0,143],"range":[161,18]},"axis":null}}},
{"mark":{"type":"rule","stroke":"#000","strokeWidth":1.6},"encoding":{"x":{"field":"a","type":"quantitative"},"y":{"field":"h","type":"quantitative"},"y2":{"field":"ha"}}},
{"mark":{"type":"rule","stroke":"#000","strokeWidth":1.6},"encoding":{"x":{"field":"b","type":"quantitative"},"y":{"field":"h","type":"quantitative"},"y2":{"field":"hb"}}}]},
{"data":{"values":[{"a":0.5,"b":1.5,"h":15,"ha":0,"hb":0},{"a":4.5,"b":5.5,"h":5,"ha":0,"hb":0},{"a":3.5,"b":5,"h":12,"ha":0,"hb":5},{"a":2.5,"b":4.25,"h":23,"ha":0,"hb":12},{"a":1,"b":3.37,"h":35,"ha":15,"hb":23},{"a":6.5,"b":7.5,"h":16,"ha":0,"hb":0},{"a":8.5,"b":9.5,"h":26,"ha":0,"hb":0},{"a":11.5,"b":12.5,"h":18,"ha":0,"hb":0},{"a":10.5,"b":12,"h":27,"ha":0,"hb":18},{"a":13.5,"b":14.5,"h":7,"ha":0,"hb":0},{"a":15.5,"b":16.5,"h":18,"ha":0,"hb":0},{"a":14,"b":16,"h":26,"ha":7,"hb":18},{"a":11.25,"b":15,"h":34,"ha":27,"hb":26},{"a":9,"b":13.12,"h":44,"ha":26,"hb":34},{"a":7,"b":11.06,"h":63,"ha":16,"hb":44},{"a":2.18,"b":9.03,"h":123,"ha":35,"hb":63}]},
"layer":[{"mark":{"type":"rule","stroke":"#000","strokeWidth":1.6},"encoding":{"y":{"field":"a","type":"quantitative","scale":{"domain":[0,17],"range":[161,529]},"axis":null},"y2":{"field":"b"},"x":{"field":"h","type":"quantitative","scale":{"domain":[0,123],"range":[164,41]},"axis":null}}},
{"mark":{"type":"rule","stroke":"#000","strokeWidth":1.6},"encoding":{"y":{"field":"a","type":"quantitative"},"x":{"field":"h","type":"quantitative"},"x2":{"field":"ha"}}},
{"mark":{"type":"rule","stroke":"#000","strokeWidth":1.6},"encoding":{"y":{"field":"b","type":"quantitative"},"x":{"field":"h","type":"quantitative"},"x2":{"field":"hb"}}}]}
]}
]},
{"width":1830,"height":659,"title":{"text":"C","anchor":"start","frame":"group","offset":-47,"dx":7,"fontSize":48,"fontWeight":"bold","font":"Liberation Sans"},
"resolve":{"scale":{"x":"independent","y":"independent"},"axis":{"x":"independent","y":"independent"}},
"layer":[
{"data":{"values":[
{"r":0,"c":0,"v":0.3},{"r":0,"c":1,"v":0.3},{"r":0,"c":2,"v":0.3},{"r":0,"c":3,"v":0.3,"s":"*"},{"r":0,"c":4,"v":0.3},{"r":0,"c":5,"v":0.3},{"r":0,"c":6,"v":0.3},{"r":0,"c":7,"v":0.3},{"r":0,"c":8,"v":0.3},{"r":0,"c":9,"v":0.3},{"r":0,"c":10,"v":0.3},{"r":0,"c":11,"v":0.3},{"r":0,"c":12,"v":0.15},{"r":0,"c":13,"v":0.3},{"r":0,"c":14,"v":0.3},{"r":0,"c":15,"v":0.3},{"r":0,"c":16,"v":-0.3},{"r":0,"c":17,"v":-0.15},{"r":0,"c":18,"v":-0.3},{"r":0,"c":19,"v":-0.3},{"r":0,"c":20,"v":-0.28},{"r":0,"c":21,"v":-0.3},{"r":0,"c":22,"v":-0.3},{"r":0,"c":23,"v":-0.3},{"r":0,"c":24,"v":-0.3},{"r":0,"c":25,"v":-0.3},{"r":0,"c":26,"v":-0.3},{"r":0,"c":27,"v":-0.3},{"r":0,"c":28,"v":-0.3},{"r":0,"c":29,"v":-0.3},{"r":0,"c":30,"v":-0.3},{"r":0,"c":31,"v":-0.3},{"r":0,"c":32,"v":-0.3},{"r":0,"c":33,"v":-0.3},{"r":0,"c":34,"v":-0.3},{"r":0,"c":35,"v":-0.3},{"r":0,"c":36,"v":-0.3},{"r":0,"c":37,"v":-0.3},{"r":0,"c":38,"v":-0.3},{"r":0,"c":39,"v":-0.3},{"r":0,"c":40,"v":-0.3},{"r":0,"c":41,"v":-0.3},{"r":0,"c":42,"v":-0.3},{"r":0,"c":43,"v":-0.3},{"r":0,"c":44,"v":-0.3},{"r":0,"c":45,"v":-0.3},{"r":0,"c":46,"v":-0.3},{"r":0,"c":47,"v":-0.3,"s":"*"},{"r":0,"c":48,"v":-0.3},{"r":0,"c":49,"v":-0.3},{"r":0,"c":50,"v":-0.3},{"r":0,"c":51,"v":-0.3},{"r":0,"c":52,"v":-0.3},{"r":0,"c":53,"v":-0.3},{"r":0,"c":54,"v":-0.3},{"r":0,"c":55,"v":-0.3},
{"r":1,"c":0,"v":0.3},{"r":1,"c":1,"v":0.3},{"r":1,"c":2,"v":0.3},{"r":1,"c":3,"v":0.3},{"r":1,"c":4,"v":0.3},{"r":1,"c":5,"v":0.3,"s":"*"},{"r":1,"c":6,"v":0.3,"s":"*"},{"r":1,"c":7,"v":0.3},{"r":1,"c":8,"v":0.3,"s":"*"},{"r":1,"c":9,"v":0.3},{"r":1,"c":10,"v":0.3,"s":"*"},{"r":1,"c":11,"v":0.3,"s":"*"},{"r":1,"c":12,"v":0.3},{"r":1,"c":13,"v":0.3},{"r":1,"c":14,"v":0.3},{"r":1,"c":15,"v":0.3},{"r":1,"c":16,"v":-0.3},{"r":1,"c":17,"v":-0.3},{"r":1,"c":18,"v":-0.3,"s":"*"},{"r":1,"c":19,"v":-0.3,"s":"*"},{"r":1,"c":20,"v":-0.3},{"r":1,"c":21,"v":-0.3,"s":"*"},{"r":1,"c":22,"v":-0.3,"s":"*"},{"r":1,"c":23,"v":-0.3},{"r":1,"c":24,"v":-0.3},{"r":1,"c":25,"v":-0.3},{"r":1,"c":26,"v":-0.3},{"r":1,"c":27,"v":-0.3,"s":"*"},{"r":1,"c":28,"v":-0.3},{"r":1,"c":29,"v":-0.3},{"r":1,"c":30,"v":-0.3},{"r":1,"c":31,"v":-0.3},{"r":1,"c":32,"v":-0.3,"s":"*"},{"r":1,"c":33,"v":-0.3},{"r":1,"c":34,"v":-0.3},{"r":1,"c":35,"v":-0.3},{"r":1,"c":36,"v":-0.3},{"r":1,"c":37,"v":-0.3},{"r":1,"c":38,"v":-0.3,"s":"*"},{"r":1,"c":39,"v":-0.3},{"r":1,"c":40,"v":-0.3},{"r":1,"c":41,"v":-0.3},{"r":1,"c":42,"v":-0.3},{"r":1,"c":43,"v":-0.3},{"r":1,"c":44,"v":-0.3},{"r":1,"c":45,"v":-0.3},{"r":1,"c":46,"v":-0.3},{"r":1,"c":47,"v":-0.3},{"r":1,"c":48,"v":-0.3},{"r":1,"c":49,"v":-0.3},{"r":1,"c":50,"v":-0.3},{"r":1,"c":51,"v":-0.3},{"r":1,"c":52,"v":-0.3},{"r":1,"c":53,"v":-0.3},{"r":1,"c":54,"v":-0.3},{"r":1,"c":55,"v":-0.3},
{"r":2,"c":0,"v":0.3},{"r":2,"c":1,"v":0.3},{"r":2,"c":2,"v":0.3},{"r":2,"c":3,"v":0.3},{"r":2,"c":4,"v":0.3},{"r":2,"c":5,"v":0.3},{"r":2,"c":6,"v":0.3},{"r":2,"c":7,"v":0.3},{"r":2,"c":8,"v":0.3},{"r":2,"c":9,"v":0.3},{"r":2,"c":10,"v":0.3,"s":"*"},{"r":2,"c":11,"v":0.3,"s":"*"},{"r":2,"c":12,"v":0.3},{"r":2,"c":13,"v":0.3,"s":"*"},{"r":2,"c":14,"v":0.3},{"r":2,"c":15,"v":0.3},{"r":2,"c":16,"v":-0.3},{"r":2,"c":17,"v":-0.3},{"r":2,"c":18,"v":-0.3,"s":"*"},{"r":2,"c":19,"v":-0.3,"s":"**"},{"r":2,"c":20,"v":-0.3,"s":"*"},{"r":2,"c":21,"v":-0.3,"s":"*"},{"r":2,"c":22,"v":-0.3,"s":"**"},{"r":2,"c":23,"v":-0.3,"s":"*"},{"r":2,"c":24,"v":-0.3,"s":"*"},{"r":2,"c":25,"v":-0.3},{"r":2,"c":26,"v":-0.3},{"r":2,"c":27,"v":-0.3,"s":"*"},{"r":2,"c":28,"v":-0.3},{"r":2,"c":29,"v":-0.3,"s":"*"},{"r":2,"c":30,"v":-0.3},{"r":2,"c":31,"v":-0.3},{"r":2,"c":32,"v":-0.3,"s":"*"},{"r":2,"c":33,"v":-0.3},{"r":2,"c":34,"v":-0.3},{"r":2,"c":35,"v":-0.3},{"r":2,"c":36,"v":-0.3},{"r":2,"c":37,"v":-0.3},{"r":2,"c":38,"v":-0.3,"s":"*"},{"r":2,"c":39,"v":-0.3},{"r":2,"c":40,"v":-0.3},{"r":2,"c":41,"v":-0.3},{"r":2,"c":42,"v":-0.3},{"r":2,"c":43,"v":-0.3,"s":"*"},{"r":2,"c":44,"v":-0.3},{"r":2,"c":45,"v":-0.3},{"r":2,"c":46,"v":-0.3},{"r":2,"c":47,"v":-0.3},{"r":2,"c":48,"v":-0.3},{"r":2,"c":49,"v":-0.3},{"r":2,"c":50,"v":-0.3},{"r":2,"c":51,"v":-0.3},{"r":2,"c":52,"v":-0.3},{"r":2,"c":53,"v":-0.3},{"r":2,"c":54,"v":-0.3},{"r":2,"c":55,"v":-0.3},
{"r":3,"c":0,"v":0.3},{"r":3,"c":1,"v":0.3},{"r":3,"c":2,"v":0.3},{"r":3,"c":3,"v":0.3},{"r":3,"c":4,"v":0.3},{"r":3,"c":5,"v":0.3},{"r":3,"c":6,"v":0.3},{"r":3,"c":7,"v":0.3},{"r":3,"c":8,"v":0.3},{"r":3,"c":9,"v":0.3},{"r":3,"c":10,"v":0.3},{"r":3,"c":11,"v":0.3},{"r":3,"c":12,"v":0.3},{"r":3,"c":13,"v":0.3,"s":"*"},{"r":3,"c":14,"v":0.3},{"r":3,"c":15,"v":0.3},{"r":3,"c":16,"v":-0.3},{"r":3,"c":17,"v":-0.3},{"r":3,"c":18,"v":-0.3,"s":"*"},{"r":3,"c":19,"v":-0.3,"s":"**"},{"r":3,"c":20,"v":-0.3},{"r":3,"c":21,"v":-0.3},{"r":3,"c":22,"v":-0.3,"s":"**"},{"r":3,"c":23,"v":-0.3,"s":"*"},{"r":3,"c":24,"v":-0.3,"s":"*"},{"r":3,"c":25,"v":-0.3},{"r":3,"c":26,"v":-0.3},{"r":3,"c":27,"v":-0.3,"s":"*"},{"r":3,"c":28,"v":-0.3},{"r":3,"c":29,"v":-0.3},{"r":3,"c":30,"v":-0.3},{"r":3,"c":31,"v":-0.3},{"r":3,"c":32,"v":-0.3,"s":"*"},{"r":3,"c":33,"v":-0.3},{"r":3,"c":34,"v":-0.3},{"r":3,"c":35,"v":-0.3},{"r":3,"c":36,"v":-0.3},{"r":3,"c":37,"v":-0.3},{"r":3,"c":38,"v":-0.3},{"r":3,"c":39,"v":-0.3},{"r":3,"c":40,"v":-0.3},{"r":3,"c":41,"v":-0.3},{"r":3,"c":42,"v":-0.3},{"r":3,"c":43,"v":-0.3},{"r":3,"c":44,"v":-0.3},{"r":3,"c":45,"v":-0.3},{"r":3,"c":46,"v":-0.3,"s":"*"},{"r":3,"c":47,"v":-0.3},{"r":3,"c":48,"v":-0.3},{"r":3,"c":49,"v":-0.3},{"r":3,"c":50,"v":-0.3},{"r":3,"c":51,"v":-0.3},{"r":3,"c":52,"v":-0.3},{"r":3,"c":53,"v":-0.3},{"r":3,"c":54,"v":-0.3},{"r":3,"c":55,"v":-0.3},
{"r":4,"c":0,"v":0.3,"s":"*"},{"r":4,"c":1,"v":0.3},{"r":4,"c":2,"v":0.3},{"r":4,"c":3,"v":0.3},{"r":4,"c":4,"v":0.3},{"r":4,"c":5,"v":0.3,"s":"*"},{"r":4,"c":6,"v":0.3,"s":"*"},{"r":4,"c":7,"v":0.3,"s":"*"},{"r":4,"c":8,"v":0.3,"s":"*"},{"r":4,"c":9,"v":0.3},{"r":4,"c":10,"v":0.3,"s":"*"},{"r":4,"c":11,"v":0.3,"s":"*"},{"r":4,"c":12,"v":0.3},{"r":4,"c":13,"v":0.3,"s":"*"},{"r":4,"c":14,"v":0.3,"s":"*"},{"r":4,"c":15,"v":0.3},{"r":4,"c":16,"v":-0.3},{"r":4,"c":17,"v":-0.3},{"r":4,"c":18,"v":-0.3,"s":"*"},{"r":4,"c":19,"v":-0.3,"s":"**"},{"r":4,"c":20,"v":-0.3},{"r":4,"c":21,"v":-0.3},{"r":4,"c":22,"v":-0.3,"s":"*"},{"r":4,"c":23,"v":-0.3},{"r":4,"c":24,"v":-0.3,"s":"*"},{"r":4,"c":25,"v":-0.3},{"r":4,"c":26,"v":-0.3},{"r":4,"c":27,"v":-0.3,"s":"*"},{"r":4,"c":28,"v":-0.3,"s":"*"},{"r":4,"c":29,"v":-0.3,"s":"*"},{"r":4,"c":30,"v":-0.3},{"r":4,"c":31,"v":-0.3},{"r":4,"c":32,"v":-0.3,"s":"**"},{"r":4,"c":33,"v":-0.3},{"r":4,"c":34,"v":-0.3},{"r":4,"c":35,"v":-0.3},{"r":4,"c":36,"v":-0.3},{"r":4,"c":37,"v":-0.3},{"r":4,"c":38,"v":-0.3,"s":"**"},{"r":4,"c":39,"v":-0.3,"s":"*"},{"r":4,"c":40,"v":-0.3,"s":"*"},{"r":4,"c":41,"v":-0.3,"s":"*"},{"r":4,"c":42,"v":-0.3,"s":"*"},{"r":4,"c":43,"v":-0.3,"s":"*"},{"r":4,"c":44,"v":-0.3},{"r":4,"c":45,"v":-0.3,"s":"*"},{"r":4,"c":46,"v":-0.3,"s":"*"},{"r":4,"c":47,"v":-0.3},{"r":4,"c":48,"v":-0.3},{"r":4,"c":49,"v":-0.3},{"r":4,"c":50,"v":-0.3},{"r":4,"c":51,"v":-0.3,"s":"*"},{"r":4,"c":52,"v":-0.3,"s":"*"},{"r":4,"c":53,"v":-0.3,"s":"*"},{"r":4,"c":54,"v":-0.3},{"r":4,"c":55,"v":-0.3},
{"r":5,"c":0,"v":0.3,"s":"*"},{"r":5,"c":1,"v":0.3},{"r":5,"c":2,"v":0.3,"s":"*"},{"r":5,"c":3,"v":0.3},{"r":5,"c":4,"v":0.3},{"r":5,"c":5,"v":0.3,"s":"*"},{"r":5,"c":6,"v":0.3,"s":"*"},{"r":5,"c":7,"v":0.3,"s":"*"},{"r":5,"c":8,"v":0.3,"s":"*"},{"r":5,"c":9,"v":0.3},{"r":5,"c":10,"v":0.3},{"r":5,"c":11,"v":0.3},{"r":5,"c":12,"v":0.3},{"r":5,"c":13,"v":0.3,"s":"*"},{"r":5,"c":14,"v":0.3},{"r":5,"c":15,"v":0.3},{"r":5,"c":16,"v":-0.3},{"r":5,"c":17,"v":-0.3},{"r":5,"c":18,"v":-0.3},{"r":5,"c":19,"v":-0.3,"s":"*"},{"r":5,"c":20,"v":-0.3},{"r":5,"c":21,"v":-0.3},{"r":5,"c":22,"v":-0.3,"s":"*"},{"r":5,"c":23,"v":-0.3},{"r":5,"c":24,"v":-0.3},{"r":5,"c":25,"v":-0.3},{"r":5,"c":26,"v":-0.3},{"r":5,"c":27,"v":-0.3,"s":"*"},{"r":5,"c":28,"v":-0.3},{"r":5,"c":29,"v":-0.3},{"r":5,"c":30,"v":-0.3},{"r":5,"c":31,"v":-0.3},{"r":5,"c":32,"v":-0.3,"s":"**"},{"r":5,"c":33,"v":-0.3},{"r":5,"c":34,"v":-0.3},{"r":5,"c":35,"v":-0.3},{"r":5,"c":36,"v":-0.3,"s":"*"},{"r":5,"c":37,"v":-0.3,"s":"*"},{"r":5,"c":38,"v":-0.3,"s":"**"},{"r":5,"c":39,"v":-0.3,"s":"*"},{"r":5,"c":40,"v":-0.3,"s":"**"},{"r":5,"c":41,"v":-0.3,"s":"**"},{"r":5,"c":42,"v":-0.3,"s":"*"},{"r":5,"c":43,"v":-0.3,"s":"*"},{"r":5,"c":44,"v":-0.3,"s":"*"},{"r":5,"c":45,"v":-0.3,"s":"**"},{"r":5,"c":46,"v":-0.3,"s":"*"},{"r":5,"c":47,"v":-0.3},{"r":5,"c":48,"v":-0.3,"s":"*"},{"r":5,"c":49,"v":-0.3,"s":"*"},{"r":5,"c":50,"v":-0.3,"s":"*"},{"r":5,"c":51,"v":-0.3,"s":"*"},{"r":5,"c":52,"v":-0.3,"s":"*"},{"r":5,"c":53,"v":-0.3,"s":"*"},{"r":5,"c":54,"v":-0.3,"s":"*"},{"r":5,"c":55,"v":-0.3,"s":"*"},
{"r":6,"c":0,"v":0.3,"s":"*"},{"r":6,"c":1,"v":0.3,"s":"*"},{"r":6,"c":2,"v":0.3},{"r":6,"c":3,"v":0.3},{"r":6,"c":4,"v":0.3},{"r":6,"c":5,"v":0.3,"s":"*"},{"r":6,"c":6,"v":0.3,"s":"*"},{"r":6,"c":7,"v":0.3,"s":"*"},{"r":6,"c":8,"v":0.3,"s":"*"},{"r":6,"c":9,"v":0.3,"s":"*"},{"r":6,"c":10,"v":0.3,"s":"*"},{"r":6,"c":11,"v":0.3,"s":"**"},{"r":6,"c":12,"v":0.3,"s":"*"},{"r":6,"c":13,"v":0.3,"s":"*"},{"r":6,"c":14,"v":0.3,"s":"*"},{"r":6,"c":15,"v":0.3,"s":"*"},{"r":6,"c":16,"v":-0.3,"s":"*"},{"r":6,"c":17,"v":-0.3,"s":"**"},{"r":6,"c":18,"v":-0.3,"s":"*"},{"r":6,"c":19,"v":-0.3},{"r":6,"c":20,"v":-0.3,"s":"*"},{"r":6,"c":21,"v":-0.3,"s":"*"},{"r":6,"c":22,"v":-0.3},{"r":6,"c":23,"v":-0.3},{"r":6,"c":24,"v":-0.3,"s":"*"},{"r":6,"c":25,"v":-0.3},{"r":6,"c":26,"v":-0.3,"s":"*"},{"r":6,"c":27,"v":-0.3,"s":"*"},{"r":6,"c":28,"v":-0.3,"s":"*"},{"r":6,"c":29,"v":-0.3,"s":"*"},{"r":6,"c":30,"v":-0.3,"s":"*"},{"r":6,"c":31,"v":-0.3},{"r":6,"c":32,"v":-0.3},{"r":6,"c":33,"v":-0.3},{"r":6,"c":34,"v":-0.3},{"r":6,"c":35,"v":-0.3},{"r":6,"c":36,"v":-0.3},{"r":6,"c":37,"v":-0.3},{"r":6,"c":38,"v":-0.3,"s":"*"},{"r":6,"c":39,"v":-0.3},{"r":6,"c":40,"v":-0.3},{"r":6,"c":41,"v":-0.3},{"r":6,"c":42,"v":-0.3,"s":"*"},{"r":6,"c":43,"v":-0.3,"s":"*"},{"r":6,"c":44,"v":-0.3},{"r":6,"c":45,"v":-0.3},{"r":6,"c":46,"v":-0.3},{"r":6,"c":47,"v":-0.3},{"r":6,"c":48,"v":-0.3},{"r":6,"c":49,"v":-0.3},{"r":6,"c":50,"v":-0.3},{"r":6,"c":51,"v":-0.3},{"r":6,"c":52,"v":-0.3},{"r":6,"c":53,"v":-0.3,"s":"*"},{"r":6,"c":54,"v":-0.3},{"r":6,"c":55,"v":-0.3},
{"r":7,"c":0,"v":0.3,"s":"**"},{"r":7,"c":1,"v":0.3,"s":"*"},{"r":7,"c":2,"v":0.3,"s":"*"},{"r":7,"c":3,"v":0.3,"s":"*"},{"r":7,"c":4,"v":0.3,"s":"*"},{"r":7,"c":5,"v":0.3,"s":"**"},{"r":7,"c":6,"v":0.3,"s":"**"},{"r":7,"c":7,"v":0.3,"s":"**"},{"r":7,"c":8,"v":0.3,"s":"**"},{"r":7,"c":9,"v":0.3,"s":"*"},{"r":7,"c":10,"v":0.3,"s":"**"},{"r":7,"c":11,"v":0.3,"s":"**"},{"r":7,"c":12,"v":0.3},{"r":7,"c":13,"v":0.3,"s":"**"},{"r":7,"c":14,"v":0.3,"s":"**"},{"r":7,"c":15,"v":0.3,"s":"**"},{"r":7,"c":16,"v":-0.3,"s":"*"},{"r":7,"c":17,"v":-0.3,"s":"*"},{"r":7,"c":18,"v":-0.3,"s":"**"},{"r":7,"c":19,"v":-0.3,"s":"*"},{"r":7,"c":20,"v":-0.3},{"r":7,"c":21,"v":-0.3,"s":"*"},{"r":7,"c":22,"v":-0.3},{"r":7,"c":23,"v":-0.3},{"r":7,"c":24,"v":-0.3,"s":"*"},{"r":7,"c":25,"v":-0.3,"s":"*"},{"r":7,"c":26,"v":-0.3,"s":"**"},{"r":7,"c":27,"v":-0.3,"s":"**"},{"r":7,"c":28,"v":-0.3,"s":"**"},{"r":7,"c":29,"v":-0.3,"s":"**"},{"r":7,"c":30,"v":-0.3,"s":"*"},{"r":7,"c":31,"v":-0.3,"s":"*"},{"r":7,"c":32,"v":-0.3,"s":"*"},{"r":7,"c":33,"v":-0.3},{"r":7,"c":34,"v":-0.3},{"r":7,"c":35,"v":-0.3},{"r":7,"c":36,"v":-0.3},{"r":7,"c":37,"v":-0.3},{"r":7,"c":38,"v":-0.3,"s":"**"},{"r":7,"c":39,"v":-0.3,"s":"*"},{"r":7,"c":40,"v":-0.3,"s":"*"},{"r":7,"c":41,"v":-0.3,"s":"*"},{"r":7,"c":42,"v":-0.3,"s":"**"},{"r":7,"c":43,"v":-0.3,"s":"**"},{"r":7,"c":44,"v":-0.3,"s":"*"},{"r":7,"c":45,"v":-0.3,"s":"*"},{"r":7,"c":46,"v":-0.3,"s":"*"},{"r":7,"c":47,"v":-0.3,"s":"*"},{"r":7,"c":48,"v":-0.3,"s":"*"},{"r":7,"c":49,"v":-0.3,"s":"*"},{"r":7,"c":50,"v":-0.3,"s":"*"},{"r":7,"c":51,"v":-0.3,"s":"*"},{"r":7,"c":52,"v":-0.3,"s":"*"},{"r":7,"c":53,"v":-0.3,"s":"**"},{"r":7,"c":54,"v":-0.3,"s":"*"},{"r":7,"c":55,"v":-0.3,"s":"*"},
{"r":8,"c":0,"v":0.3,"s":"*"},{"r":8,"c":1,"v":0.3,"s":"*"},{"r":8,"c":2,"v":0.3,"s":"*"},{"r":8,"c":3,"v":0.3},{"r":8,"c":4,"v":0.3,"s":"*"},{"r":8,"c":5,"v":0.3,"s":"**"},{"r":8,"c":6,"v":0.3,"s":"**"},{"r":8,"c":7,"v":0.3,"s":"*"},{"r":8,"c":8,"v":0.3,"s":"**"},{"r":8,"c":9,"v":0.3},{"r":8,"c":10,"v":0.3,"s":"**"},{"r":8,"c":11,"v":0.3,"s":"**"},{"r":8,"c":12,"v":0.3,"s":"*"},{"r":8,"c":13,"v":0.3,"s":"**"},{"r":8,"c":14,"v":0.3,"s":"**"},{"r":8,"c":15,"v":0.3,"s":"**"},{"r":8,"c":16,"v":-0.3},{"r":8,"c":17,"v":-0.3,"s":"*"},{"r":8,"c":18,"v":-0.3,"s":"**"},{"r":8,"c":19,"v":-0.3,"s":"*"},{"r":8,"c":20,"v":-0.3,"s":"*"},{"r":8,"c":21,"v":-0.3,"s":"**"},{"r":8,"c":22,"v":-0.3,"s":"**"},{"r":8,"c":23,"v":-0.3,"s":"*"},{"r":8,"c":24,"v":-0.3,"s":"**"},{"r":8,"c":25,"v":-0.3,"s":"*"},{"r":8,"c":26,"v":-0.3,"s":"*"},{"r":8,"c":27,"v":-0.3,"s":"**"},{"r":8,"c":28,"v":-0.3,"s":"*"},{"r":8,"c":29,"v":-0.3,"s":"*"},{"r":8,"c":30,"v":-0.3,"s":"*"},{"r":8,"c":31,"v":-0.3,"s":"*"},{"r":8,"c":32,"v":-0.3,"s":"**"},{"r":8,"c":33,"v":-0.3},{"r":8,"c":34,"v":-0.3},{"r":8,"c":35,"v":-0.3},{"r":8,"c":36,"v":-0.3},{"r":8,"c":37,"v":-0.3},{"r":8,"c":38,"v":-0.3,"s":"**"},{"r":8,"c":39,"v":-0.3,"s":"*"},{"r":8,"c":40,"v":-0.3,"s":"*"},{"r":8,"c":41,"v":-0.3,"s":"*"},{"r":8,"c":42,"v":-0.3,"s":"**"},{"r":8,"c":43,"v":-0.3,"s":"**"},{"r":8,"c":44,"v":-0.3},{"r":8,"c":45,"v":-0.3,"s":"*"},{"r":8,"c":46,"v":-0.3},{"r":8,"c":47,"v":-0.3},{"r":8,"c":48,"v":-0.3},{"r":8,"c":49,"v":-0.3},{"r":8,"c":50,"v":-0.3,"s":"*"},{"r":8,"c":51,"v":-0.3,"s":"*"},{"r":8,"c":52,"v":-0.3,"s":"*"},{"r":8,"c":53,"v":-0.3,"s":"*"},{"r":8,"c":54,"v":-0.3,"s":"*"},{"r":8,"c":55,"v":-0.3,"s":"*"},
{"r":9,"c":0,"v":0},{"r":9,"c":1,"v":0.2},{"r":9,"c":2,"v":0.12},{"r":9,"c":3,"v":0.15},{"r":9,"c":4,"v":0.3},{"r":9,"c":5,"v":-0.07},{"r":9,"c":6,"v":0},{"r":9,"c":7,"v":-0.2},{"r":9,"c":8,"v":-0.2},{"r":9,"c":9,"v":-0.15},{"r":9,"c":10,"v":-0.15},{"r":9,"c":11,"v":0.1},{"r":9,"c":12,"v":0.3},{"r":9,"c":13,"v":0.2},{"r":9,"c":14,"v":0.18},{"r":9,"c":15,"v":0.25},{"r":9,"c":16,"v":0.3},{"r":9,"c":17,"v":-0.18},{"r":9,"c":18,"v":0.07},{"r":9,"c":19,"v":0.06},{"r":9,"c":20,"v":-0.3},{"r":9,"c":21,"v":-0.2},{"r":9,"c":22,"v":-0.27},{"r":9,"c":23,"v":-0.27},{"r":9,"c":24,"v":-0.3},{"r":9,"c":25,"v":-0.3},{"r":9,"c":26,"v":-0.2},{"r":9,"c":27,"v":-0.1},{"r":9,"c":28,"v":-0.07},{"r":9,"c":29,"v":-0.03},{"r":9,"c":30,"v":-0.2},{"r":9,"c":31,"v":0.01},{"r":9,"c":32,"v":-0.3},{"r":9,"c":33,"v":-0.3},{"r":9,"c":34,"v":-0.3},{"r":9,"c":35,"v":-0.13},{"r":9,"c":36,"v":0.01},{"r":9,"c":37,"v":-0.1},{"r":9,"c":38,"v":0.04},{"r":9,"c":39,"v":-0.07},{"r":9,"c":40,"v":-0.1},{"r":9,"c":41,"v":0},{"r":9,"c":42,"v":-0.2},{"r":9,"c":43,"v":-0.1},{"r":9,"c":44,"v":0.2},{"r":9,"c":45,"v":0.03},{"r":9,"c":46,"v":0.06},{"r":9,"c":47,"v":-0.07},{"r":9,"c":48,"v":0.02},{"r":9,"c":49,"v":0.1},{"r":9,"c":50,"v":-0.18},{"r":9,"c":51,"v":-0.07},{"r":9,"c":52,"v":-0.05},{"r":9,"c":53,"v":-0.08},{"r":9,"c":54,"v":-0.12},{"r":9,"c":55,"v":-0.17},
{"r":10,"c":0,"v":-0.3},{"r":10,"c":1,"v":-0.3},{"r":10,"c":2,"v":-0.3},{"r":10,"c":3,"v":-0.3},{"r":10,"c":4,"v":-0.3},{"r":10,"c":5,"v":-0.07},{"r":10,"c":6,"v":-0.12},{"r":10,"c":7,"v":-0.15},{"r":10,"c":8,"v":-0.01},{"r":10,"c":9,"v":-0.18},{"r":10,"c":10,"v":-0.06},{"r":10,"c":11,"v":-0.2},{"r":10,"c":12,"v":-0.3},{"r":10,"c":13,"v":-0.28},{"r":10,"c":14,"v":-0.3},{"r":10,"c":15,"v":-0.3},{"r":10,"c":16,"v":-0.02},{"r":10,"c":17,"v":0.3},{"r":10,"c":18,"v":0.18},{"r":10,"c":19,"v":0.07},{"r":10,"c":20,"v":0.3},{"r":10,"c":21,"v":0.25},{"r":10,"c":22,"v":0.2},{"r":10,"c":23,"v":0.3},{"r":10,"c":24,"v":0.3},{"r":10,"c":25,"v":0.3},{"r":10,"c":26,"v":0.3},{"r":10,"c":27,"v":0.25},{"r":10,"c":28,"v":0.3},{"r":10,"c":29,"v":0.28},{"r":10,"c":30,"v":0.3},{"r":10,"c":31,"v":0.3},{"r":10,"c":32,"v":0.3},{"r":10,"c":33,"v":0.3},{"r":10,"c":34,"v":0.3},{"r":10,"c":35,"v":0.3},{"r":10,"c":36,"v":0.22},{"r":10,"c":37,"v":0.25},{"r":10,"c":38,"v":0.12},{"r":10,"c":39,"v":0.3},{"r":10,"c":40,"v":0.3},{"r":10,"c":41,"v":0.22},{"r":10,"c":42,"v":0.3},{"r":10,"c":43,"v":0.3},{"r":10,"c":44,"v":0.2},{"r":10,"c":45,"v":0.22},{"r":10,"c":46,"v":0.2},{"r":10,"c":47,"v":0.3},{"r":10,"c":48,"v":0.3},{"r":10,"c":49,"v":0.3},{"r":10,"c":50,"v":0.3},{"r":10,"c":51,"v":0.3},{"r":10,"c":52,"v":0.3},{"r":10,"c":53,"v":0.3},{"r":10,"c":54,"v":0.3},{"r":10,"c":55,"v":0.3},
{"r":11,"c":0,"v":-0.28},{"r":11,"c":1,"v":-0.28},{"r":11,"c":2,"v":-0.3},{"r":11,"c":3,"v":-0.3},{"r":11,"c":4,"v":-0.3},{"r":11,"c":5,"v":-0.15},{"r":11,"c":6,"v":-0.22},{"r":11,"c":7,"v":-0.13},{"r":11,"c":8,"v":-0.03},{"r":11,"c":9,"v":-0.03},{"r":11,"c":10,"v":-0.01},{"r":11,"c":11,"v":-0.1},{"r":11,"c":12,"v":-0.22},{"r":11,"c":13,"v":-0.25},{"r":11,"c":14,"v":-0.25},{"r":11,"c":15,"v":-0.27},{"r":11,"c":16,"v":-0.04},{"r":11,"c":17,"v":0.3},{"r":11,"c":18,"v":0.1},{"r":11,"c":19,"v":0.01},{"r":11,"c":20,"v":0.2},{"r":11,"c":21,"v":0.15},{"r":11,"c":22,"v":0.07},{"r":11,"c":23,"v":0.18},{"r":11,"c":24,"v":0.3},{"r":11,"c":25,"v":0.3},{"r":11,"c":26,"v":0.3},{"r":11,"c":27,"v":0.2},{"r":11,"c":28,"v":0.3},{"r":11,"c":29,"v":0.27},{"r":11,"c":30,"v":0.3},{"r":11,"c":31,"v":0.3},{"r":11,"c":32,"v":0.3},{"r":11,"c":33,"v":0.3},{"r":11,"c":34,"v":0.3},{"r":11,"c":35,"v":0.3},{"r":11,"c":36,"v":0.3},{"r":11,"c":37,"v":0.3},{"r":11,"c":38,"v":0.18},{"r":11,"c":39,"v":0.3},{"r":11,"c":40,"v":0.3},{"r":11,"c":41,"v":0.27},{"r":11,"c":42,"v":0.3},{"r":11,"c":43,"v":0.3},{"r":11,"c":44,"v":0.22},{"r":11,"c":45,"v":0.24},{"r":11,"c":46,"v":0.22},{"r":11,"c":47,"v":0.3},{"r":11,"c":48,"v":0.3},{"r":11,"c":49,"v":0.3},{"r":11,"c":50,"v":0.3},{"r":11,"c":51,"v":0.3},{"r":11,"c":52,"v":0.3},{"r":11,"c":53,"v":0.3},{"r":11,"c":54,"v":0.3},{"r":11,"c":55,"v":0.3},
{"r":12,"c":0,"v":-0.17},{"r":12,"c":1,"v":-0.2},{"r":12,"c":2,"v":-0.3},{"r":12,"c":3,"v":-0.3},{"r":12,"c":4,"v":-0.22},{"r":12,"c":5,"v":0.08},{"r":12,"c":6,"v":0.01},{"r":12,"c":7,"v":0},{"r":12,"c":8,"v":0.18},{"r":12,"c":9,"v":0.18},{"r":12,"c":10,"v":0.2},{"r":12,"c":11,"v":0.2},{"r":12,"c":12,"v":0.18},{"r":12,"c":13,"v":0.03},{"r":12,"c":14,"v":-0.12},{"r":12,"c":15,"v":-0.17},{"r":12,"c":16,"v":-0.2},{"r":12,"c":17,"v":0.03},{"r":12,"c":18,"v":-0.12},{"r":12,"c":19,"v":-0.2},{"r":12,"c":20,"v":-0.2},{"r":12,"c":21,"v":-0.2},{"r":12,"c":22,"v":-0.25},{"r":12,"c":23,"v":-0.12},{"r":12,"c":24,"v":0.01},{"r":12,"c":25,"v":0.22},{"r":12,"c":26,"v":0.18},{"r":12,"c":27,"v":-0.05},{"r":12,"c":28,"v":0.1},{"r":12,"c":29,"v":0.1},{"r":12,"c":30,"v":0.1},{"r":12,"c":31,"v":0.08},{"r":12,"c":32,"v":0.1},{"r":12,"c":33,"v":0.3},{"r":12,"c":34,"v":0.3},{"r":12,"c":35,"v":0.3},{"r":12,"c":36,"v":0.27},{"r":12,"c":37,"v":0.3},{"r":12,"c":38,"v":-0.07},{"r":12,"c":39,"v":0.2},{"r":12,"c":40,"v":0.13},{"r":12,"c":41,"v":0.13},{"r":12,"c":42,"v":0.17},{"r":12,"c":43,"v":0.09},{"r":12,"c":44,"v":0.2},{"r":12,"c":45,"v":0.15},{"r":12,"c":46,"v":0.12},{"r":12,"c":47,"v":0.3},{"r":12,"c":48,"v":0.28},{"r":12,"c":49,"v":0.3},{"r":12,"c":50,"v":0.28},{"r":12,"c":51,"v":0.23},{"r":12,"c":52,"v":0.25},{"r":12,"c":53,"v":0.22},{"r":12,"c":54,"v":0.3},{"r":12,"c":55,"v":0.28},
{"r":13,"c":0,"v":0.01},{"r":13,"c":1,"v":-0.13},{"r":13,"c":2,"v":-0.13},{"r":13,"c":3,"v":-0.3},{"r":13,"c":4,"v":-0.27},{"r":13,"c":5,"v":0.22},{"r":13,"c":6,"v":0.17},{"r":13,"c":7,"v":0.17},{"r":13,"c":8,"v":0.28},{"r":13,"c":9,"v":0.03},{"r":13,"c":10,"v":0.18},{"r":13,"c":11,"v":0.07},{"r":13,"c":12,"v":-0.18},{"r":13,"c":13,"v":-0.1},{"r":13,"c":14,"v":-0.12},{"r":13,"c":15,"v":-0.22},{"r":13,"c":16,"v":-0.3},{"r":13,"c":17,"v":0.01},{"r":13,"c":18,"v":-0.04},{"r":13,"c":19,"v":-0.13},{"r":13,"c":20,"v":0.18},{"r":13,"c":21,"v":0.03},{"r":13,"c":22,"v":0.02},{"r":13,"c":23,"v":0.2},{"r":13,"c":24,"v":0.18},{"r":13,"c":25,"v":0.3},{"r":13,"c":26,"v":0.18},{"r":13,"c":27,"v":0.01},{"r":13,"c":28,"v":0.12},{"r":13,"c":29,"v":0.1},{"r":13,"c":30,"v":0.3},{"r":13,"c":31,"v":0.17},{"r":13,"c":32,"v":0.3},{"r":13,"c":33,"v":0.3},{"r":13,"c":34,"v":0.3},{"r":13,"c":35,"v":0.2},{"r":13,"c":36,"v":-0.09},{"r":13,"c":37,"v":0},{"r":13,"c":38,"v":-0.22},{"r":13,"c":39,"v":0.03},{"r":13,"c":40,"v":0},{"r":13,"c":41,"v":-0.05},{"r":13,"c":42,"v":0.1},{"r":13,"c":43,"v":0},{"r":13,"c":44,"v":-0.07},{"r":13,"c":45,"v":-0.04},{"r":13,"c":46,"v":0.01},{"r":13,"c":47,"v":0.22},{"r":13,"c":48,"v":0.1},{"r":13,"c":49,"v":0.07},{"r":13,"c":50,"v":0.13},{"r":13,"c":51,"v":0.05},{"r":13,"c":52,"v":0.04},{"r":13,"c":53,"v":0.05},{"r":13,"c":54,"v":0.14},{"r":13,"c":55,"v":0.16},
{"r":14,"c":0,"v":-0.3},{"r":14,"c":1,"v":-0.3},{"r":14,"c":2,"v":-0.25},{"r":14,"c":3,"v":-0.28},{"r":14,"c":4,"v":-0.12},{"r":14,"c":5,"v":-0.3},{"r":14,"c":6,"v":-0.27},{"r":14,"c":7,"v":-0.3},{"r":14,"c":8,"v":-0.3},{"r":14,"c":9,"v":-0.3},{"r":14,"c":10,"v":-0.3},{"r":14,"c":11,"v":-0.3},{"r":14,"c":12,"v":-0.3},{"r":14,"c":13,"v":-0.3},{"r":14,"c":14,"v":-0.3},{"r":14,"c":15,"v":-0.3},{"r":14,"c":16,"v":0.3},{"r":14,"c":17,"v":0.3},{"r":14,"c":18,"v":0.3},{"r":14,"c":19,"v":0.2},{"r":14,"c":20,"v":0.3},{"r":14,"c":21,"v":0.3},{"r":14,"c":22,"v":0.02},{"r":14,"c":23,"v":0.2},{"r":14,"c":24,"v":0.22},{"r":14,"c":25,"v":0.15},{"r":14,"c":26,"v":0.3},{"r":14,"c":27,"v":0.3},{"r":14,"c":28,"v":0.3},{"r":14,"c":29,"v":0.3},{"r":14,"c":30,"v":0.3},{"r":14,"c":31,"v":0.3},{"r":14,"c":32,"v":0.3},{"r":14,"c":33,"v":0.3},{"r":14,"c":34,"v":0.2},{"r":14,"c":35,"v":0.25},{"r":14,"c":36,"v":0.18},{"r":14,"c":37,"v":0.1},{"r":14,"c":38,"v":0.25},{"r":14,"c":39,"v":0.2},{"r":14,"c":40,"v":0.25},{"r":14,"c":41,"v":0.2},{"r":14,"c":42,"v":0.3},{"r":14,"c":43,"v":0.3},{"r":14,"c":44,"v":0.2},{"r":14,"c":45,"v":0.07},{"r":14,"c":46,"v":0.06},{"r":14,"c":47,"v":0.27},{"r":14,"c":48,"v":0.22},{"r":14,"c":49,"v":0.28},{"r":14,"c":50,"v":0.13},{"r":14,"c":51,"v":0.17},{"r":14,"c":52,"v":0.15},{"r":14,"c":53,"v":0.28},{"r":14,"c":54,"v":0.22},{"r":14,"c":55,"v":0.2},
{"r":15,"c":0,"v":-0.3},{"r":15,"c":1,"v":-0.3},{"r":15,"c":2,"v":-0.3},{"r":15,"c":3,"v":-0.3},{"r":15,"c":4,"v":-0.3},{"r":15,"c":5,"v":-0.3},{"r":15,"c":6,"v":-0.3},{"r":15,"c":7,"v":-0.3},{"r":15,"c":8,"v":-0.3},{"r":15,"c":9,"v":-0.3},{"r":15,"c":10,"v":-0.3},{"r":15,"c":11,"v":-0.3},{"r":15,"c":12,"v":-0.3,"s":"*"},{"r":15,"c":13,"v":-0.3},{"r":15,"c":14,"v":-0.3},{"r":15,"c":15,"v":-0.3},{"r":15,"c":16,"v":0.3},{"r":15,"c":17,"v":0.3},{"r":15,"c":18,"v":0.3},{"r":15,"c":19,"v":0.3},{"r":15,"c":20,"v":0.3,"s":"**"},{"r":15,"c":21,"v":0.3,"s":"*"},{"r":15,"c":22,"v":0.3},{"r":15,"c":23,"v":0.3},{"r":15,"c":24,"v":0.3},{"r":15,"c":25,"v":0.3},{"r":15,"c":26,"v":0.3},{"r":15,"c":27,"v":0.3},{"r":15,"c":28,"v":0.3},{"r":15,"c":29,"v":0.3},{"r":15,"c":30,"v":0.3,"s":"*"},{"r":15,"c":31,"v":0.3},{"r":15,"c":32,"v":0.3},{"r":15,"c":33,"v":0.3},{"r":15,"c":34,"v":0.3},{"r":15,"c":35,"v":0.2},{"r":15,"c":36,"v":0.14},{"r":15,"c":37,"v":0.18},{"r":15,"c":38,"v":0.3},{"r":15,"c":39,"v":0.3},{"r":15,"c":40,"v":0.3},{"r":15,"c":41,"v":0.3},{"r":15,"c":42,"v":0.3},{"r":15,"c":43,"v":0.3},{"r":15,"c":44,"v":0.25},{"r":15,"c":45,"v":0.3},{"r":15,"c":46,"v":0.3},{"r":15,"c":47,"v":0.3},{"r":15,"c":48,"v":0.3},{"r":15,"c":49,"v":0.3},{"r":15,"c":50,"v":0.27},{"r":15,"c":51,"v":0.3},{"r":15,"c":52,"v":0.27},{"r":15,"c":53,"v":0.3},{"r":15,"c":54,"v":0.3},{"r":15,"c":55,"v":0.3},
{"r":16,"c":0,"v":-0.25},{"r":16,"c":1,"v":-0.22},{"r":16,"c":2,"v":-0.07},{"r":16,"c":3,"v":-0.28},{"r":16,"c":4,"v":-0.3},{"r":16,"c":5,"v":-0.3},{"r":16,"c":6,"v":-0.22},{"r":16,"c":7,"v":-0.3},{"r":16,"c":8,"v":-0.3},{"r":16,"c":9,"v":-0.3,"s":"*"},{"r":16,"c":10,"v":-0.3},{"r":16,"c":11,"v":-0.3},{"r":16,"c":12,"v":-0.3},{"r":16,"c":13,"v":-0.3},{"r":16,"c":14,"v":-0.3},{"r":16,"c":15,"v":-0.3},{"r":16,"c":16,"v":0.3},{"r":16,"c":17,"v":0.3},{"r":16,"c":18,"v":0.3},{"r":16,"c":19,"v":0.3},{"r":16,"c":20,"v":0.3},{"r":16,"c":21,"v":0.3},{"r":16,"c":22,"v":0.3},{"r":16,"c":23,"v":0.3},{"r":16,"c":24,"v":0.3},{"r":16,"c":25,"v":0.3},{"r":16,"c":26,"v":0.3},{"r":16,"c":27,"v":0.3},{"r":16,"c":28,"v":0.3},{"r":16,"c":29,"v":0.3},{"r":16,"c":30,"v":0.3},{"r":16,"c":31,"v":0.3},{"r":16,"c":32,"v":0.3},{"r":16,"c":33,"v":0.3},{"r":16,"c":34,"v":0.2},{"r":16,"c":35,"v":-0.08},{"r":16,"c":36,"v":-0.1},{"r":16,"c":37,"v":-0.1},{"r":16,"c":38,"v":0.3},{"r":16,"c":39,"v":0.17},{"r":16,"c":40,"v":0.17},{"r":16,"c":41,"v":0.2},{"r":16,"c":42,"v":0.3},{"r":16,"c":43,"v":0.3},{"r":16,"c":44,"v":0.17},{"r":16,"c":45,"v":0.18},{"r":16,"c":46,"v":0.27},{"r":16,"c":47,"v":0.28},{"r":16,"c":48,"v":0.2},{"r":16,"c":49,"v":0.17},{"r":16,"c":50,"v":0.05},{"r":16,"c":51,"v":0.12},{"r":16,"c":52,"v":0.08},{"r":16,"c":53,"v":0.2},{"r":16,"c":54,"v":0.14},{"r":16,"c":55,"v":0.2},
{"r":17,"c":0,"v":-0.3},{"r":17,"c":1,"v":-0.3},{"r":17,"c":2,"v":-0.3},{"r":17,"c":3,"v":-0.3},{"r":17,"c":4,"v":-0.3},{"r":17,"c":5,"v":-0.3},{"r":17,"c":6,"v":-0.3},{"r":17,"c":7,"v":-0.3},{"r":17,"c":8,"v":-0.3},{"r":17,"c":9,"v":-0.3},{"r":17,"c":10,"v":-0.3},{"r":17,"c":11,"v":-0.3},{"r":17,"c":12,"v":-0.05},{"r":17,"c":13,"v":-0.3},{"r":17,"c":14,"v":-0.3},{"r":17,"c":15,"v":-0.3},{"r":17,"c":16,"v":0.3},{"r":17,"c":17,"v":0.3},{"r":17,"c":18,"v":0.3},{"r":17,"c":19,"v":0.3},{"r":17,"c":20,"v":0.05},{"r":17,"c":21,"v":0.3},{"r":17,"c":22,"v":0.3},{"r":17,"c":23,"v":0.2},{"r":17,"c":24,"v":0.3},{"r":17,"c":25,"v":0.3},{"r":17,"c":26,"v":0.3},{"r":17,"c":27,"v":0.3},{"r":17,"c":28,"v":0.3},{"r":17,"c":29,"v":0.3},{"r":17,"c":30,"v":0.25},{"r":17,"c":31,"v":0.3},{"r":17,"c":32,"v":0.01},{"r":17,"c":33,"v":0.3},{"r":17,"c":34,"v":0.3},{"r":17,"c":35,"v":0.3},{"r":17,"c":36,"v":0.3,"s":"*"},{"r":17,"c":37,"v":0.3},{"r":17,"c":38,"v":0.3},{"r":17,"c":39,"v":0.3},{"r":17,"c":40,"v":0.3},{"r":17,"c":41,"v":0.3},{"r":17,"c":42,"v":0.3},{"r":17,"c":43,"v":0.3},{"r":17,"c":44,"v":0.3},{"r":17,"c":45,"v":0.3},{"r":17,"c":46,"v":0.3},{"r":17,"c":47,"v":0.3},{"r":17,"c":48,"v":0.3},{"r":17,"c":49,"v":0.3},{"r":17,"c":50,"v":0.3},{"r":17,"c":51,"v":0.3},{"r":17,"c":52,"v":0.3},{"r":17,"c":53,"v":0.3},{"r":17,"c":54,"v":0.3},{"r":17,"c":55,"v":0.3},
{"r":18,"c":0,"v":-0.3},{"r":18,"c":1,"v":-0.3},{"r":18,"c":2,"v":-0.3},{"r":18,"c":3,"v":-0.3},{"r":18,"c":4,"v":-0.3},{"r":18,"c":5,"v":-0.3},{"r":18,"c":6,"v":-0.3},{"r":18,"c":7,"v":-0.3},{"r":18,"c":8,"v":-0.3},{"r":18,"c":9,"v":-0.3,"s":"*"},{"r":18,"c":10,"v":-0.3},{"r":18,"c":11,"v":-0.3,"s":"*"},{"r":18,"c":12,"v":-0.3,"s":"*"},{"r":18,"c":13,"v":-0.3},{"r":18,"c":14,"v":-0.3},{"r":18,"c":15,"v":-0.3},{"r":18,"c":16,"v":0.3},{"r":18,"c":17,"v":0.3},{"r":18,"c":18,"v":0.3,"s":"*"},{"r":18,"c":19,"v":0.3},{"r":18,"c":20,"v":0.3,"s":"**"},{"r":18,"c":21,"v":0.3,"s":"**"},{"r":18,"c":22,"v":0.3,"s":"*"},{"r":18,"c":23,"v":0.3,"s":"*"},{"r":18,"c":24,"v":0.3},{"r":18,"c":25,"v":0.3},{"r":18,"c":26,"v":0.3},{"r":18,"c":27,"v":0.3},{"r":18,"c":28,"v":0.3},{"r":18,"c":29,"v":0.3},{"r":18,"c":30,"v":0.3,"s":"*"},{"r":18,"c":31,"v":0.3},{"r":18,"c":32,"v":0.3},{"r":18,"c":33,"v":0.3},{"r":18,"c":34,"v":0.3},{"r":18,"c":35,"v":0.22},{"r":18,"c":36,"v":0.27},{"r":18,"c":37,"v":0.3},{"r":18,"c":38,"v":0.3},{"r":18,"c":39,"v":0.3},{"r":18,"c":40,"v":0.3},{"r":18,"c":41,"v":0.3},{"r":18,"c":42,"v":0.3},{"r":18,"c":43,"v":0.3},{"r":18,"c":44,"v":0.3},{"r":18,"c":45,"v":0.3},{"r":18,"c":46,"v":0.3},{"r":18,"c":47,"v":0.3},{"r":18,"c":48,"v":0.3},{"r":18,"c":49,"v":0.3},{"r":18,"c":50,"v":0.3},{"r":18,"c":51,"v":0.3},{"r":18,"c":52,"v":0.3},{"r":18,"c":53,"v":0.3},{"r":18,"c":54,"v":0.3},{"r":18,"c":55,"v":0.3},
{"r":19,"c":0,"v":-0.3},{"r":19,"c":1,"v":-0.3},{"r":19,"c":2,"v":-0.3},{"r":19,"c":3,"v":-0.3},{"r":19,"c":4,"v":-0.3},{"r":19,"c":5,"v":-0.3},{"r":19,"c":6,"v":-0.3},{"r":19,"c":7,"v":-0.3},{"r":19,"c":8,"v":-0.3,"s":"*"},{"r":19,"c":9,"v":-0.3,"s":"**"},{"r":19,"c":10,"v":-0.3,"s":"*"},{"r":19,"c":11,"v":-0.3,"s":"**"},{"r":19,"c":12,"v":-0.3,"s":"*"},{"r":19,"c":13,"v":-0.3,"s":"*"},{"r":19,"c":14,"v":-0.3},{"r":19,"c":15,"v":-0.3},{"r":19,"c":16,"v":0.3},{"r":19,"c":17,"v":0.3},{"r":19,"c":18,"v":0.3,"s":"**"},{"r":19,"c":19,"v":0.3},{"r":19,"c":20,"v":0.3,"s":"**"},{"r":19,"c":21,"v":0.3,"s":"**"},{"r":19,"c":22,"v":0.3,"s":"*"},{"r":19,"c":23,"v":0.3,"s":"*"},{"r":19,"c":24,"v":0.3,"s":"*"},{"r":19,"c":25,"v":0.3},{"r":19,"c":26,"v":0.3},{"r":19,"c":27,"v":0.3,"s":"*"},{"r":19,"c":28,"v":0.3},{"r":19,"c":29,"v":0.3,"s":"*"},{"r":19,"c":30,"v":0.3,"s":"*"},{"r":19,"c":31,"v":0.3,"s":"*"},{"r":19,"c":32,"v":0.3},{"r":19,"c":33,"v":0.3},{"r":19,"c":34,"v":0.3},{"r":19,"c":35,"v":0.3},{"r":19,"c":36,"v":0.3},{"r":19,"c":37,"v":0.3},{"r":19,"c":38,"v":0.3},{"r":19,"c":39,"v":0.3},{"r":19,"c":40,"v":0.3},{"r":19,"c":41,"v":0.3},{"r":19,"c":42,"v":0.3},{"r":19,"c":43,"v":0.3},{"r":19,"c":44,"v":0.3},{"r":19,"c":45,"v":0.3},{"r":19,"c":46,"v":0.3},{"r":19,"c":47,"v":0.3},{"r":19,"c":48,"v":0.3},{"r":19,"c":49,"v":0.3},{"r":19,"c":50,"v":0.3},{"r":19,"c":51,"v":0.3},{"r":19,"c":52,"v":0.3},{"r":19,"c":53,"v":0.3},{"r":19,"c":54,"v":0.3},{"r":19,"c":55,"v":0.3},
{"r":20,"c":0,"v":-0.3,"s":"*"},{"r":20,"c":1,"v":-0.3,"s":"*"},{"r":20,"c":2,"v":-0.3},{"r":20,"c":3,"v":-0.3},{"r":20,"c":4,"v":-0.3},{"r":20,"c":5,"v":-0.3,"s":"**"},{"r":20,"c":6,"v":-0.3,"s":"*"},{"r":20,"c":7,"v":-0.3,"s":"**"},{"r":20,"c":8,"v":-0.3,"s":"**"},{"r":20,"c":9,"v":-0.3,"s":"*"},{"r":20,"c":10,"v":-0.3,"s":"**"},{"r":20,"c":11,"v":-0.3,"s":"**"},{"r":20,"c":12,"v":-0.3,"s":"*"},{"r":20,"c":13,"v":-0.3,"s":"**"},{"r":20,"c":14,"v":-0.3,"s":"*"},{"r":20,"c":15,"v":-0.3,"s":"*"},{"r":20,"c":16,"v":0.3,"s":"*"},{"r":20,"c":17,"v":0.3,"s":"*"},{"r":20,"c":18,"v":0.3,"s":"**"},{"r":20,"c":19,"v":0.3,"s":"*"},{"r":20,"c":20,"v":0.3,"s":"*"},{"r":20,"c":21,"v":0.3,"s":"**"},{"r":20,"c":22,"v":0.3},{"r":20,"c":23,"v":0.3},{"r":20,"c":24,"v":0.3,"s":"*"},{"r":20,"c":25,"v":0.3},{"r":20,"c":26,"v":0.3,"s":"*"},{"r":20,"c":27,"v":0.3,"s":"**"},{"r":20,"c":28,"v":0.3,"s":"*"},{"r":20,"c":29,"v":0.3,"s":"*"},{"r":20,"c":30,"v":0.3,"s":"*"},{"r":20,"c":31,"v":0.3,"s":"*"},{"r":20,"c":32,"v":0.3,"s":"*"},{"r":20,"c":33,"v":0.3},{"r":20,"c":34,"v":0.3},{"r":20,"c":35,"v":0.3},{"r":20,"c":36,"v":0.3},{"r":20,"c":37,"v":0.3},{"r":20,"c":38,"v":0.3,"s":"*"},{"r":20,"c":39,"v":0.3},{"r":20,"c":40,"v":0.3},{"r":20,"c":41,"v":0.3},{"r":20,"c":42,"v":0.3,"s":"*"},{"r":20,"c":43,"v":0.3,"s":"*"},{"r":20,"c":44,"v":0.3},{"r":20,"c":45,"v":0.3},{"r":20,"c":46,"v":0.3},{"r":20,"c":47,"v":0.3},{"r":20,"c":48,"v":0.3},{"r":20,"c":49,"v":0.3},{"r":20,"c":50,"v":0.3},{"r":20,"c":51,"v":0.3},{"r":20,"c":52,"v":0.3},{"r":20,"c":53,"v":0.3,"s":"*"},{"r":20,"c":54,"v":0.3},{"r":20,"c":55,"v":0.3},
{"r":21,"c":0,"v":-0.3,"s":"**"},{"r":21,"c":1,"v":-0.3},{"r":21,"c":2,"v":-0.3,"s":"*"},{"r":21,"c":3,"v":-0.3,"s":"*"},{"r":21,"c":4,"v":-0.3,"s":"*"},{"r":21,"c":5,"v":-0.3,"s":"*"},{"r":21,"c":6,"v":-0.3,"s":"*"},{"r":21,"c":7,"v":-0.3,"s":"**"},{"r":21,"c":8,"v":-0.3,"s":"*"},{"r":21,"c":9,"v":-0.3},{"r":21,"c":10,"v":-0.3,"s":"*"},{"r":21,"c":11,"v":-0.3,"s":"*"},{"r":21,"c":12,"v":-0.3},{"r":21,"c":13,"v":-0.3,"s":"**"},{"r":21,"c":14,"v":-0.3,"s":"*"},{"r":21,"c":15,"v":-0.3,"s":"*"},{"r":21,"c":16,"v":0.3},{"r":21,"c":17,"v":0.3},{"r":21,"c":18,"v":0.3,"s":"**"},{"r":21,"c":19,"v":0.3,"s":"***"},{"r":21,"c":20,"v":0.3},{"r":21,"c":21,"v":0.3,"s":"*"},{"r":21,"c":22,"v":0.3,"s":"*"},{"r":21,"c":23,"v":0.3,"s":"*"},{"r":21,"c":24,"v":0.3,"s":"*"},{"r":21,"c":25,"v":0.3,"s":"*"},{"r":21,"c":26,"v":0.3,"s":"*"},{"r":21,"c":27,"v":0.3,"s":"**"},{"r":21,"c":28,"v":0.3,"s":"**"},{"r":21,"c":29,"v":0.3,"s":"**"},{"r":21,"c":30,"v":0.3,"s":"*"},{"r":21,"c":31,"v":0.3,"s":"**"},{"r":21,"c":32,"v":0.3,"s":"**"},{"r":21,"c":33,"v":0.3},{"r":21,"c":34,"v":0.3},{"r":21,"c":35,"v":0.3},{"r":21,"c":36,"v":0.3},{"r":21,"c":37,"v":0.3},{"r":21,"c":38,"v":0.3,"s":"**"},{"r":21,"c":39,"v":0.3,"s":"**"},{"r":21,"c":40,"v":0.3,"s":"*"},{"r":21,"c":41,"v":0.3,"s":"**"},{"r":21,"c":42,"v":0.3,"s":"*"},{"r":21,"c":43,"v":0.3,"s":"**"},{"r":21,"c":44,"v":0.3,"s":"**"},{"r":21,"c":45,"v":0.3,"s":"**"},{"r":21,"c":46,"v":0.3,"s":"**"},{"r":21,"c":47,"v":0.3,"s":"**"},{"r":21,"c":48,"v":0.3,"s":"**"},{"r":21,"c":49,"v":0.3,"s":"*"},{"r":21,"c":50,"v":0.3,"s":"*"},{"r":21,"c":51,"v":0.3,"s":"*"},{"r":21,"c":52,"v":0.3,"s":"*"},{"r":21,"c":53,"v":0.3,"s":"*"},{"r":21,"c":54,"v":0.3,"s":"*"},{"r":21,"c":55,"v":0.3,"s":"*"},
{"r":22,"c":0,"v":-0.3,"s":"*"},{"r":22,"c":1,"v":-0.3},{"r":22,"c":2,"v":-0.3},{"r":22,"c":3,"v":-0.3},{"r":22,"c":4,"v":-0.3,"s":"**"},{"r":22,"c":5,"v":-0.3},{"r":22,"c":6,"v":-0.3,"s":"*"},{"r":22,"c":7,"v":-0.3},{"r":22,"c":8,"v":-0.3},{"r":22,"c":9,"v":-0.3},{"r":22,"c":10,"v":-0.3,"s":"*"},{"r":22,"c":11,"v":-0.3,"s":"*"},{"r":22,"c":12,"v":-0.3,"s":"*"},{"r":22,"c":13,"v":-0.3,"s":"**"},{"r":22,"c":14,"v":-0.3,"s":"*"},{"r":22,"c":15,"v":-0.3,"s":"**"},{"r":22,"c":16,"v":0.3},{"r":22,"c":17,"v":0.3},{"r":22,"c":18,"v":0.3,"s":"*"},{"r":22,"c":19,"v":0.3,"s":"**"},{"r":22,"c":20,"v":0.3,"s":"*"},{"r":22,"c":21,"v":0.3,"s":"*"},{"r":22,"c":22,"v":0.3,"s":"**"},{"r":22,"c":23,"v":0.3,"s":"**"},{"r":22,"c":24,"v":0.3,"s":"**"},{"r":22,"c":25,"v":0.3,"s":"**"},{"r":22,"c":26,"v":0.3,"s":"*"},{"r":22,"c":27,"v":0.3,"s":"**"},{"r":22,"c":28,"v":0.3,"s":"**"},{"r":22,"c":29,"v":0.3,"s":"*"},{"r":22,"c":30,"v":0.3,"s":"*"},{"r":22,"c":31,"v":0.3,"s":"*"},{"r":22,"c":32,"v":0.3,"s":"*"},{"r":22,"c":33,"v":0.3,"s":"*"},{"r":22,"c":34,"v":0.3,"s":"*"},{"r":22,"c":35,"v":0.3},{"r":22,"c":36,"v":0.3},{"r":22,"c":37,"v":0.3},{"r":22,"c":38,"v":0.3,"s":"*"},{"r":22,"c":39,"v":0.3,"s":"*"},{"r":22,"c":40,"v":0.3,"s":"*"},{"r":22,"c":41,"v":0.3,"s":"*"},{"r":22,"c":42,"v":0.3,"s":"*"},{"r":22,"c":43,"v":0.3,"s":"*"},{"r":22,"c":44,"v":0.3},{"r":22,"c":45,"v":0.3,"s":"*"},{"r":22,"c":46,"v":0.3,"s":"*"},{"r":22,"c":47,"v":0.3,"s":"*"},{"r":22,"c":48,"v":0.3,"s":"*"},{"r":22,"c":49,"v":0.3},{"r":22,"c":50,"v":0.3},{"r":22,"c":51,"v":0.3,"s":"*"},{"r":22,"c":52,"v":0.3},{"r":22,"c":53,"v":0.3,"s":"*"},{"r":22,"c":54,"v":0.3,"s":"*"},{"r":22,"c":55,"v":0.3,"s":"*"},
{"r":23,"c":0,"v":-0.3},{"r":23,"c":1,"v":-0.3},{"r":23,"c":2,"v":-0.3},{"r":23,"c":3,"v":-0.3,"s":"*"},{"r":23,"c":4,"v":-0.3,"s":"*"},{"r":23,"c":5,"v":-0.3},{"r":23,"c":6,"v":-0.3},{"r":23,"c":7,"v":-0.3},{"r":23,"c":8,"v":-0.3},{"r":23,"c":9,"v":-0.3},{"r":23,"c":10,"v":-0.3},{"r":23,"c":11,"v":-0.3},{"r":23,"c":12,"v":-0.3},{"r":23,"c":13,"v":-0.3,"s":"*"},{"r":23,"c":14,"v":-0.3},{"r":23,"c":15,"v":-0.3,"s":"*"},{"r":23,"c":16,"v":0.3},{"r":23,"c":17,"v":0.3},{"r":23,"c":18,"v":0.3},{"r":23,"c":19,"v":0.3},{"r":23,"c":20,"v":0.3,"s":"*"},{"r":23,"c":21,"v":0.3,"s":"*"},{"r":23,"c":22,"v":0.3},{"r":23,"c":23,"v":0.3,"s":"**"},{"r":23,"c":24,"v":0.3,"s":"*"},{"r":23,"c":25,"v":0.3,"s":"*"},{"r":23,"c":26,"v":0.3,"s":"*"},{"r":23,"c":27,"v":0.3},{"r":23,"c":28,"v":0.3,"s":"*"},{"r":23,"c":29,"v":0.3,"s":"*"},{"r":23,"c":30,"v":0.3,"s":"**"},{"r":23,"c":31,"v":0.3,"s":"*"},{"r":23,"c":32,"v":0.3},{"r":23,"c":33,"v":0.3,"s":"*"},{"r":23,"c":34,"v":0.3,"s":"*"},{"r":23,"c":35,"v":0.3},{"r":23,"c":36,"v":0.3},{"r":23,"c":37,"v":0.3},{"r":23,"c":38,"v":0.3},{"r":23,"c":39,"v":0.3},{"r":23,"c":40,"v":0.3},{"r":23,"c":41,"v":0.3},{"r":23,"c":42,"v":0.3},{"r":23,"c":43,"v":0.3},{"r":23,"c":44,"v":0.3},{"r":23,"c":45,"v":0.3},{"r":23,"c":46,"v":0.3},{"r":23,"c":47,"v":0.3,"s":"*"},{"r":23,"c":48,"v":0.3},{"r":23,"c":49,"v":0.3},{"r":23,"c":50,"v":0.3},{"r":23,"c":51,"v":0.3},{"r":23,"c":52,"v":0.3},{"r":23,"c":53,"v":0.3},{"r":23,"c":54,"v":0.3},{"r":23,"c":55,"v":0.3},
{"r":24,"c":0,"v":-0.3},{"r":24,"c":1,"v":-0.3},{"r":24,"c":2,"v":-0.3},{"r":24,"c":3,"v":-0.3,"s":"*"},{"r":24,"c":4,"v":-0.3,"s":"*"},{"r":24,"c":5,"v":-0.3},{"r":24,"c":6,"v":-0.3},{"r":24,"c":7,"v":-0.3},{"r":24,"c":8,"v":-0.3},{"r":24,"c":9,"v":-0.3},{"r":24,"c":10,"v":-0.3},{"r":24,"c":11,"v":-0.3},{"r":24,"c":12,"v":-0.3},{"r":24,"c":13,"v":-0.3},{"r":24,"c":14,"v":-0.3},{"r":24,"c":15,"v":-0.3,"s":"*"},{"r":24,"c":16,"v":0.3},{"r":24,"c":17,"v":0.3},{"r":24,"c":18,"v":0.3},{"r":24,"c":19,"v":0.3},{"r":24,"c":20,"v":0.3},{"r":24,"c":21,"v":0.3},{"r":24,"c":22,"v":0.3},{"r":24,"c":23,"v":0.3},{"r":24,"c":24,"v":0.3},{"r":24,"c":25,"v":0.3,"s":"*"},{"r":24,"c":26,"v":0.3,"s":"*"},{"r":24,"c":27,"v":0.3},{"r":24,"c":28,"v":0.3},{"r":24,"c":29,"v":0.3},{"r":24,"c":30,"v":0.3,"s":"*"},{"r":24,"c":31,"v":0.3},{"r":24,"c":32,"v":0.3},{"r":24,"c":33,"v":0.3,"s":"**"},{"r":24,"c":34,"v":0.3,"s":"**"},{"r":24,"c":35,"v":0.3},{"r":24,"c":36,"v":0.3},{"r":24,"c":37,"v":0.3},{"r":24,"c":38,"v":0.3},{"r":24,"c":39,"v":0.3},{"r":24,"c":40,"v":0.3},{"r":24,"c":41,"v":0.3},{"r":24,"c":42,"v":0.3},{"r":24,"c":43,"v":0.3},{"r":24,"c":44,"v":0.3},{"r":24,"c":45,"v":0.3},{"r":24,"c":46,"v":0.3},{"r":24,"c":47,"v":0.3,"s":"*"},{"r":24,"c":48,"v":0.3},{"r":24,"c":49,"v":0.3},{"r":24,"c":50,"v":0.3},{"r":24,"c":51,"v":0.3},{"r":24,"c":52,"v":0.3},{"r":24,"c":53,"v":0.3},{"r":24,"c":54,"v":0.3},{"r":24,"c":55,"v":0.3},
{"r":25,"c":0,"v":-0.3},{"r":25,"c":1,"v":-0.3},{"r":25,"c":2,"v":-0.3},{"r":25,"c":3,"v":-0.3},{"r":25,"c":4,"v":-0.3,"s":"*"},{"r":25,"c":5,"v":-0.3},{"r":25,"c":6,"v":-0.3},{"r":25,"c":7,"v":-0.3},{"r":25,"c":8,"v":-0.3},{"r":25,"c":9,"v":-0.27},{"r":25,"c":10,"v":-0.3},{"r":25,"c":11,"v":-0.3},{"r":25,"c":12,"v":-0.3},{"r":25,"c":13,"v":-0.3},{"r":25,"c":14,"v":-0.3},{"r":25,"c":15,"v":-0.3,"s":"*"},{"r":25,"c":16,"v":0.3},{"r":25,"c":17,"v":0.3},{"r":25,"c":18,"v":0.3},{"r":25,"c":19,"v":0.3},{"r":25,"c":20,"v":0.3},{"r":25,"c":21,"v":0.3},{"r":25,"c":22,"v":0.3},{"r":25,"c":23,"v":0.3},{"r":25,"c":24,"v":0.3,"s":"*"},{"r":25,"c":25,"v":0.3,"s":"*"},{"r":25,"c":26,"v":0.3},{"r":25,"c":27,"v":0.3},{"r":25,"c":28,"v":0.3},{"r":25,"c":29,"v":0.3},{"r":25,"c":30,"v":0.3,"s":"*"},{"r":25,"c":31,"v":0.3},{"r":25,"c":32,"v":0.3},{"r":25,"c":33,"v":0.3,"s":"*"},{"r":25,"c":34,"v":0.3,"s":"*"},{"r":25,"c":35,"v":0.3},{"r":25,"c":36,"v":0.3},{"r":25,"c":37,"v":0.3},{"r":25,"c":38,"v":0.3},{"r":25,"c":39,"v":0.3},{"r":25,"c":40,"v":0.3},{"r":25,"c":41,"v":0.3},{"r":25,"c":42,"v":0.3},{"r":25,"c":43,"v":0.3},{"r":25,"c":44,"v":0.3},{"r":25,"c":45,"v":0.3},{"r":25,"c":46,"v":0.3},{"r":25,"c":47,"v":0.3},{"r":25,"c":48,"v":0.3},{"r":25,"c":49,"v":0.3},{"r":25,"c":50,"v":0.3},{"r":25,"c":51,"v":0.3},{"r":25,"c":52,"v":0.3},{"r":25,"c":53,"v":0.3},{"r":25,"c":54,"v":0.3},{"r":25,"c":55,"v":0.3},
{"r":26,"c":0,"v":-0.3},{"r":26,"c":1,"v":-0.3,"s":"*"},{"r":26,"c":2,"v":-0.3,"s":"**"},{"r":26,"c":3,"v":-0.3},{"r":26,"c":4,"v":-0.3},{"r":26,"c":5,"v":-0.3},{"r":26,"c":6,"v":-0.3,"s":"*"},{"r":26,"c":7,"v":-0.3},{"r":26,"c":8,"v":-0.3},{"r":26,"c":9,"v":-0.3},{"r":26,"c":10,"v":-0.3},{"r":26,"c":11,"v":-0.3},{"r":26,"c":12,"v":-0.3},{"r":26,"c":13,"v":-0.3},{"r":26,"c":14,"v":-0.3},{"r":26,"c":15,"v":-0.3},{"r":26,"c":16,"v":0.3},{"r":26,"c":17,"v":0.3},{"r":26,"c":18,"v":0.3},{"r":26,"c":19,"v":0.3},{"r":26,"c":20,"v":0.3},{"r":26,"c":21,"v":0.3},{"r":26,"c":22,"v":0.3},{"r":26,"c":23,"v":0.3},{"r":26,"c":24,"v":0.3},{"r":26,"c":25,"v":0.3,"s":"*"},{"r":26,"c":26,"v":0.3},{"r":26,"c":27,"v":0.3},{"r":26,"c":28,"v":0.3},{"r":26,"c":29,"v":0.3},{"r":26,"c":30,"v":0.3},{"r":26,"c":31,"v":0.3},{"r":26,"c":32,"v":0.3},{"r":26,"c":33,"v":0.3},{"r":26,"c":34,"v":0.3,"s":"*"},{"r":26,"c":35,"v":0.3,"s":"**"},{"r":26,"c":36,"v":0.3,"s":"**"},{"r":26,"c":37,"v":0.3,"s":"**"},{"r":26,"c":38,"v":0.3},{"r":26,"c":39,"v":0.3,"s":"*"},{"r":26,"c":40,"v":0.3,"s":"*"},{"r":26,"c":41,"v":0.3,"s":"*"},{"r":26,"c":42,"v":0.3,"s":"*"},{"r":26,"c":43,"v":0.3},{"r":26,"c":44,"v":0.3},{"r":26,"c":45,"v":0.3},{"r":26,"c":46,"v":0.3},{"r":26,"c":47,"v":0.3},{"r":26,"c":48,"v":0.3},{"r":26,"c":49,"v":0.3},{"r":26,"c":50,"v":0.3,"s":"**"},{"r":26,"c":51,"v":0.3,"s":"*"},{"r":26,"c":52,"v":0.3,"s":"*"},{"r":26,"c":53,"v":0.3,"s":"*"},{"r":26,"c":54,"v":0.3,"s":"*"},{"r":26,"c":55,"v":0.3,"s":"*"},
{"r":27,"c":0,"v":-0.3,"s":"*"},{"r":27,"c":1,"v":-0.3,"s":"**"},{"r":27,"c":2,"v":-0.3,"s":"**"},{"r":27,"c":3,"v":-0.3},{"r":27,"c":4,"v":-0.3},{"r":27,"c":5,"v":-0.3,"s":"*"},{"r":27,"c":6,"v":-0.3,"s":"*"},{"r":27,"c":7,"v":-0.3,"s":"*"},{"r":27,"c":8,"v":-0.3,"s":"*"},{"r":27,"c":9,"v":-0.3},{"r":27,"c":10,"v":-0.3},{"r":27,"c":11,"v":-0.3},{"r":27,"c":12,"v":-0.3},{"r":27,"c":13,"v":-0.3,"s":"*"},{"r":27,"c":14,"v":-0.3,"s":"*"},{"r":27,"c":15,"v":-0.3,"s":"*"},{"r":27,"c":16,"v":0.3},{"r":27,"c":17,"v":0.3,"s":"**"},{"r":27,"c":18,"v":0.3},{"r":27,"c":19,"v":0.3},{"r":27,"c":20,"v":0.3},{"r":27,"c":21,"v":0.3},{"r":27,"c":22,"v":0.3},{"r":27,"c":23,"v":0.3},{"r":27,"c":24,"v":0.3},{"r":27,"c":25,"v":0.3},{"r":27,"c":26,"v":0.3,"s":"*"},{"r":27,"c":27,"v":0.3},{"r":27,"c":28,"v":0.3,"s":"*"},{"r":27,"c":29,"v":0.3,"s":"*"},{"r":27,"c":30,"v":0.3},{"r":27,"c":31,"v":0.3},{"r":27,"c":32,"v":0.3,"s":"*"},{"r":27,"c":33,"v":0.3},{"r":27,"c":34,"v":0.3},{"r":27,"c":35,"v":0.3,"s":"**"},{"r":27,"c":36,"v":0.3,"s":"*"},{"r":27,"c":37,"v":0.3,"s":"*"},{"r":27,"c":38,"v":0.3,"s":"*"},{"r":27,"c":39,"v":0.3,"s":"*"},{"r":27,"c":40,"v":0.3,"s":"*"},{"r":27,"c":41,"v":0.3,"s":"*"},{"r":27,"c":42,"v":0.3,"s":"*"},{"r":27,"c":43,"v":0.3,"s":"*"},{"r":27,"c":44,"v":0.3},{"r":27,"c":45,"v":0.3},{"r":27,"c":46,"v":0.3},{"r":27,"c":47,"v":0.3},{"r":27,"c":48,"v":0.3,"s":"*"},{"r":27,"c":49,"v":0.3,"s":"*"},{"r":27,"c":50,"v":0.3,"s":"*"},{"r":27,"c":51,"v":0.3,"s":"*"},{"r":27,"c":52,"v":0.3,"s":"*"},{"r":27,"c":53,"v":0.3,"s":"**"},{"r":27,"c":54,"v":0.3,"s":"*"},{"r":27,"c":55,"v":0.3,"s":"*"}
]},
"layer":[{"mark":{"type":"rect","stroke":"#999","strokeWidth":1.5},"encoding":{
"x":{"field":"c","type":"ordinal","scale":{"domain":[0,1,2,3,4,5,6,7,8,9,10,11,12,13,14,15,16,17,18,19,20,21,22,23,24,25,26,27,28,29,30,31,32,33,34,35,36,37,38,39,40,41,42,43,44,45,46,47,48,49,50,51,52,53,54,55],"range":[170,1341]},"axis":{"orient":"bottom","title":null,"domain":false,"ticks":false,"labelAngle":90,"labelFontSize":12,"labelPadding":5,"offset":-126,"labelExpr":"['ACDSB_RAT','D3ZMP6_RAT','IL33_RAT','ACY3_RAT','RASK_RAT','A0A0H2UHH9_RAT','B5DF60_RAT','G3V786_RAT','RM41_RAT','A0A0G2K676_RAT','RS29_RAT','A0A0G2KAN5_RAT','M0RDF2_RAT','PLOD2_RAT','G3V7K5_RAT','G3V828_RAT','F1LMW7_RAT','Q68HM2_RAT','KAD4_RAT','F1MAF2_RAT','D3ZH40_RAT','APC_RAT','F1LP07_RAT','D3ZS31_RAT','F1LSM2_RAT','TIMP1_RAT','Q4ASL1_RAT','F1LZB7_RAT','MARE3_RAT','ATAD1_RAT','F1LQ07_RAT','RIR2_RAT','A0A0G2QC09_RAT','PYGL_RAT','UBAC1_RAT','CH3L1_RAT','SSU72_RAT','B5DEP3_RAT','G3V7I5_RAT','ROB1_RAT','G3V8S9_RAT','D3ZE00_RAT','D3ZU22_RAT','ATS1_RAT','D4A3D1_RAT','NOS2_RAT','NMES1_RAT','HMOX1_RAT','MT1_RAT','FCERG_RAT','F1M861_RAT','COR1A_RAT','CATG_RAT','Q5I0E1_RAT','D3ZMI6_RAT','F1M9F6_RAT'][datum.value]"}},
"y":{"field":"r","type":"ordinal","scale":{"domain":[0,1,2,3,4,5,6,7,8,9,10,11,12,13,14,15,16,17,18,19,20,21,22,23,24,25,26,27],"range":[119,533]},"axis":{"orient":"right","title":null,"domain":false,"ticks":false,"labelFontSize":13.5,"labelPadding":7,"offset":-489,"labelExpr":"['L-Threonine','5-Aminopentanoic acid','trans-1,2-Dihydrobenzene-1,2-diol','Palmitic acid','L-Malic acid','Xanthine','N-Acetylornithine','3 Methylthiopropionic acid','Oxoglutaric acid','3-Methylindole','1-Naphthylamine','GMP','cis 4 Hydroxy D proline','Spermidine','Taurine','10-Hydroxydecanoic acid','N-Acetyl-L-phenylalanine','Leukotriene D4','L-Aspartic acid','Prostaglandin-c2','Ketoleucine','3-Hydroxybenzoic acid','Tryptophanamide','2-Keto-6-acetamidocaproate','AMP','Prostaglandin F2a','O-Phosphoethanolamine','Dehydroascorbate'][datum.value]"}},
"color":{"field":"v","type":"quantitative","scale":{"domain":[-0.3,0,0.3],"range":["#0a96c8","#ffffff","#ff4500"],"clamp":true,"interpolate":"rgb"},"legend":{"orient":"none","legendX":1624,"legendY":119,"direction":"vertical","title":null,"gradientLength":278,"gradientThickness":26,"labelFontSize":22,"labelOffset":10,"labelBaseline":"middle","labelOverlap":false,"values":[-0.3,-0.2,-0.1,0,0.1,0.2,0.3],"labelExpr":"''+datum.value"}}}},
{"transform":[{"filter":"datum.s"}],"mark":{"type":"text","fontSize":20,"baseline":"middle","dy":2,"color":"#000"},"encoding":{"x":{"field":"c","type":"ordinal"},"y":{"field":"r","type":"ordinal"},"text":{"field":"s"}}}]},
{"data":{"values":[{"a":1.5,"b":2.5,"h":5,"ha":0,"hb":0},{"a":0.5,"b":2,"h":8,"ha":0,"hb":5},{"a":3.5,"b":4.5,"h":6,"ha":0,"hb":0},{"a":1.25,"b":4,"h":12,"ha":8,"hb":6},{"a":5.5,"b":6.5,"h":3,"ha":0,"hb":0},{"a":7.5,"b":8.5,"h":4,"ha":0,"hb":0},{"a":6,"b":8,"h":9,"ha":3,"hb":4},{"a":10.5,"b":11.5,"h":5,"ha":0,"hb":0},{"a":9.5,"b":11,"h":9,"ha":0,"hb":5},{"a":14.5,"b":15.5,"h":2,"ha":0,"hb":0},{"a":13.5,"b":15,"h":4,"ha":0,"hb":2},{"a":12.5,"b":14.25,"h":11,"ha":0,"hb":4},{"a":10.25,"b":13.37,"h":14,"ha":9,"hb":11},{"a":7,"b":11.81,"h":17,"ha":9,"hb":14},{"a":2.62,"b":9.4,"h":22,"ha":12,"hb":17},{"a":16.5,"b":17.5,"h":12,"ha":0,"hb":0},{"a":18.5,"b":19.5,"h":6,"ha":0,"hb":0},{"a":20.5,"b":21.5,"h":6,"ha":0,"hb":0},{"a":22.5,"b":23.5,"h":5,"ha":0,"hb":0},{"a":21,"b":23,"h":10,"ha":6,"hb":5},{"a":25.5,"b":26.5,"h":4,"ha":0,"hb":0},{"a":24.5,"b":26,"h":7,"ha":0,"hb":4},{"a":27.5,"b":28.5,"h":3,"ha":0,"hb":0},{"a":29.5,"b":30.5,"h":4,"ha":0,"hb":0},{"a":30,"b":31.5,"h":5,"ha":4,"hb":0},{"a":28,"b":30.75,"h":8,"ha":3,"hb":5},{"a":25.25,"b":29.37,"h":11,"ha":7,"hb":8},{"a":22,"b":27.31,"h":13,"ha":10,"hb":11},{"a":19,"b":24.65,"h":16,"ha":6,"hb":13},{"a":17,"b":21.82,"h":25,"ha":12,"hb":16},{"a":33.5,"b":34.5,"h":2,"ha":0,"hb":0},{"a":32.5,"b":34,"h":15,"ha":0,"hb":2},{"a":36.5,"b":37.5,"h":3,"ha":0,"hb":0},{"a":35.5,"b":37,"h":8,"ha":0,"hb":3},{"a":39.5,"b":40.5,"h":4,"ha":0,"hb":0},{"a":42.5,"b":43.5,"h":3,"ha":0,"hb":0},{"a":41.5,"b":43,"h":5,"ha":0,"hb":3},{"a":40,"b":42.25,"h":6,"ha":4,"hb":5},{"a":38.5,"b":41.12,"h":8,"ha":0,"hb":6},{"a":45.5,"b":46.5,"h":4,"ha":0,"hb":0},{"a":44.5,"b":46,"h":7,"ha":0,"hb":4},{"a":48.5,"b":49.5,"h":3,"ha":0,"hb":0},{"a":50.5,"b":51.5,"h":2,"ha":0,"hb":0},{"a":52.5,"b":53.5,"h":2,"ha":0,"hb":0},{"a":54.5,"b":55.5,"h":2,"ha":0,"hb":0},{"a":53,"b":55,"h":3,"ha":2,"hb":2},{"a":51,"b":54,"h":4,"ha":2,"hb":3},{"a":49,"b":52.5,"h":5,"ha":3,"hb":4},{"a":47.5,"b":50.75,"h":7,"ha":0,"hb":5},{"a":45.25,"b":49.12,"h":12,"ha":7,"hb":7},{"a":39.81,"b":47.19,"h":14,"ha":8,"hb":12},{"a":36.25,"b":43.5,"h":18,"ha":8,"hb":14},{"a":33.25,"b":39.87,"h":26,"ha":15,"hb":18},{"a":19.41,"b":36.56,"h":28,"ha":25,"hb":26},{"a":6,"b":27.98,"h":96,"ha":22,"hb":28}]},
"layer":[{"mark":{"type":"rule","stroke":"#000","strokeWidth":1.3},"encoding":{"x":{"field":"a","type":"quantitative","scale":{"domain":[0,56],"range":[170,1341]},"axis":null},"x2":{"field":"b"},"y":{"field":"h","type":"quantitative","scale":{"domain":[0,96],"range":[119,23]},"axis":null}}},
{"mark":{"type":"rule","stroke":"#000","strokeWidth":1.3},"encoding":{"x":{"field":"a","type":"quantitative"},"y":{"field":"h","type":"quantitative"},"y2":{"field":"ha"}}},
{"mark":{"type":"rule","stroke":"#000","strokeWidth":1.3},"encoding":{"x":{"field":"b","type":"quantitative"},"y":{"field":"h","type":"quantitative"},"y2":{"field":"hb"}}}]},
{"data":{"values":[{"a":2.5,"b":3.5,"h":5,"ha":0,"hb":0},{"a":1.5,"b":3,"h":10,"ha":0,"hb":5},{"a":4.5,"b":5.5,"h":6,"ha":0,"hb":0},{"a":7.5,"b":8.5,"h":3,"ha":0,"hb":0},{"a":6.5,"b":8,"h":5,"ha":0,"hb":3},{"a":5,"b":7.25,"h":12,"ha":6,"hb":5},{"a":2.25,"b":6.12,"h":18,"ha":10,"hb":12},{"a":0.5,"b":4.19,"h":28,"ha":0,"hb":18},{"a":10.5,"b":11.5,"h":11,"ha":0,"hb":0},{"a":12.5,"b":13.5,"h":11,"ha":0,"hb":0},{"a":11,"b":13,"h":21,"ha":11,"hb":11},{"a":9.5,"b":12,"h":41,"ha":0,"hb":21},{"a":15.5,"b":16.5,"h":12,"ha":0,"hb":0},{"a":14.5,"b":16,"h":23,"ha":0,"hb":12},{"a":18.5,"b":19.5,"h":8,"ha":0,"hb":0},{"a":21.5,"b":22.5,"h":7,"ha":0,"hb":0},{"a":20.5,"b":22,"h":14,"ha":0,"hb":7},{"a":24.5,"b":25.5,"h":8,"ha":0,"hb":0},{"a":23.5,"b":25,"h":14,"ha":0,"hb":8},{"a":26.5,"b":27.5,"h":10,"ha":0,"hb":0},{"a":24.25,"b":27,"h":18,"ha":14,"hb":10},{"a":21.25,"b":25.62,"h":22,"ha":14,"hb":18},{"a":19,"b":23.44,"h":26,"ha":8,"hb":22},{"a":17.5,"b":21.22,"h":32,"ha":0,"hb":26},{"a":15.25,"b":19.36,"h":48,"ha":23,"hb":32},{"a":10.75,"b":17.3,"h":77,"ha":41,"hb":48},{"a":2.34,"b":14.03,"h":137,"ha":28,"hb":77}]},
"layer":[{"mark":{"type":"rule","stroke":"#000","strokeWidth":1.3},"encoding":{"y":{"field":"a","type":"quantitative","scale":{"domain":[0,28],"range":[119,533]},"axis":null},"y2":{"field":"b"},"x":{"field":"h","type":"quantitative","scale":{"domain":[0,137],"range":[170,33]},"axis":null}}},
{"mark":{"type":"rule","stroke":"#000","strokeWidth":1.3},"encoding":{"y":{"field":"a","type":"quantitative"},"x":{"field":"h","type":"quantitative"},"x2":{"field":"ha"}}},
{"mark":{"type":"rule","stroke":"#000","strokeWidth":1.3},"encoding":{"y":{"field":"b","type":"quantitative"},"x":{"field":"h","type":"quantitative"},"x2":{"field":"hb"}}}]}
]},
{"width":1830,"height":1075,"resolve":{"scale":{"size":"independent"}},
"encoding":{"x":{"field":"x","type":"quantitative","scale":{"domain":[0,1830],"nice":false,"zero":false},"axis":null},"y":{"field":"y","type":"quantitative","scale":{"domain":[2330,1255],"nice":false,"zero":false},"axis":null}},
"layer":[
{"data":{"values":[
{"x":284,"y":1350,"x2":1679,"y2":1389},{"x":284,"y":1350,"x2":881,"y2":1403},{"x":134,"y":1391,"x2":376,"y2":1457},{"x":134,"y":1391,"x2":875,"y2":1567},{"x":376,"y":1457,"x2":1713,"y2":1503},{"x":376,"y":1457,"x2":284,"y2":1563},{"x":134,"y":1522,"x2":881,"y2":1403},{"x":134,"y":1522,"x2":1679,"y2":1389},{"x":134,"y":1522,"x2":1713,"y2":1503},{"x":134,"y":1522,"x2":284,"y2":1563},{"x":875,"y":1567,"x2":1746,"y2":1442},{"x":875,"y":1567,"x2":1713,"y2":1503},{"x":1194,"y":1294,"x2":1286,"y2":1341},
{"x":226,"y":1669,"x2":1483,"y2":1746},{"x":226,"y":1669,"x2":226,"y2":1875},{"x":226,"y":1669,"x2":338,"y2":1772},{"x":847,"y":1683,"x2":1711,"y2":1699},{"x":338,"y":1772,"x2":1585,"y2":1672},{"x":338,"y":1772,"x2":852,"y2":1876},{"x":113,"y":1772,"x2":226,"y2":1875},{"x":1016,"y":1772,"x2":1711,"y2":1699},{"x":1016,"y":1772,"x2":226,"y2":1875},{"x":1016,"y":1772,"x2":852,"y2":1876},{"x":1585,"y":1672,"x2":1483,"y2":1746},{"x":1585,"y":1672,"x2":1483,"y2":1865},{"x":1585,"y":1672,"x2":1585,"y2":1939},{"x":1585,"y":1672,"x2":1711,"y2":1912},{"x":1711,"y":1699,"x2":1483,"y2":1746},{"x":1711,"y":1699,"x2":1483,"y2":1865},{"x":852,"y":1876,"x2":1483,"y2":1746},{"x":852,"y":1876,"x2":1767,"y2":1805},{"x":852,"y":1876,"x2":1483,"y2":1865},{"x":852,"y":1876,"x2":1711,"y2":1912},{"x":852,"y":1876,"x2":1585,"y2":1939},
{"x":663,"y":1995,"x2":1614,"y2":2062},{"x":159,"y":2062,"x2":266,"y2":2062},{"x":266,"y":2062,"x2":1068,"y2":2047},{"x":266,"y":2062,"x2":1559,"y2":2181},{"x":159,"y":2062,"x2":326,"y2":2139},{"x":159,"y":2062,"x2":159,"y2":2301},{"x":1068,"y":2047,"x2":326,"y2":2139},{"x":1068,"y":2047,"x2":294,"y2":2235},{"x":1068,"y":2047,"x2":1776,"y2":2181},{"x":1143,"y":2096,"x2":326,"y2":2139},{"x":1143,"y":2096,"x2":159,"y2":2301},{"x":1143,"y":2096,"x2":1776,"y2":2181},{"x":1614,"y":2062,"x2":1722,"y2":2062},{"x":1614,"y":2062,"x2":294,"y2":2235},{"x":1614,"y":2062,"x2":159,"y2":2301},{"x":1614,"y":2062,"x2":1776,"y2":2181},{"x":1722,"y":2062,"x2":159,"y2":2301},{"x":1722,"y":2062,"x2":1776,"y2":2181},{"x":326,"y":2139,"x2":104,"y2":2181},{"x":104,"y":2181,"x2":1559,"y2":2181},{"x":104,"y":2181,"x2":1776,"y2":2181},{"x":104,"y":2181,"x2":294,"y2":2235},{"x":104,"y":2181,"x2":1072,"y2":2254},{"x":104,"y":2181,"x2":159,"y2":2301},{"x":294,"y":2235,"x2":1559,"y2":2181},{"x":159,"y":2301,"x2":1614,"y2":2301},{"x":1776,"y":2181,"x2":1722,"y2":2301}
]},"mark":{"type":"rule","stroke":"#888","strokeWidth":2},"encoding":{"x2":{"field":"x2"},"y2":{"field":"y2"}}},
{"data":{"values":[{"x":218,"x2":1634,"y":1614},{"x":218,"x2":1634,"y":1966}]},"mark":{"type":"rule","stroke":"#555","strokeWidth":2,"strokeDash":[10,6]},"encoding":{"x2":{"field":"x2"}}},
{"data":{"name":"nodes","values":[
{"x":1194,"y":1294,"n":"Cyp4a1","k":"dr","g":"m"},{"x":1286,"y":1341,"n":"Palmitic acid","k":"de","g":"m"},{"x":284,"y":1350,"n":"Spermidine","k":"de","g":"o"},{"x":134,"y":1391,"n":"Prdm9","k":"dr","g":"o"},{"x":881,"y":1403,"n":"Bcat1","k":"dr","g":"l"},{"x":1679,"y":1389,"n":"Il6","k":"dr","g":"b"},{"x":1746,"y":1442,"n":"Camk2a","k":"dr","g":"b"},{"x":376,"y":1457,"n":"Ketoleucine","k":"de","g":"o"},{"x":1713,"y":1503,"n":"Map2k6","k":"dr","g":"b"},{"x":134,"y":1522,"n":"Dehydroascorbate","k":"de","g":"o"},{"x":284,"y":1563,"n":"Gstt3","k":"dr","g":"o"},{"x":875,"y":1567,"n":"D-4-Phosphopantothenate","k":"de","g":"l"},
{"x":226,"y":1669,"n":"Prdm9","k":"er","g":"o"},{"x":847,"y":1683,"n":"G3V7I5_RAT","k":"ee","g":"m"},{"x":1585,"y":1672,"n":"Aldob","k":"er","g":"b"},{"x":1711,"y":1699,"n":"Map2k6","k":"er","g":"b"},{"x":1483,"y":1746,"n":"TIMP1_RAT","k":"ee","g":"b"},{"x":113,"y":1772,"n":"Gstt3","k":"er","g":"o"},{"x":338,"y":1772,"n":"RIR2_RAT","k":"ee","g":"o"},{"x":1016,"y":1772,"n":"ACDSB_RAT","k":"ee","g":"m"},{"x":1767,"y":1805,"n":"NOS2_RAT","k":"ee","g":"b"},{"x":1483,"y":1865,"n":"RASK_RAT","k":"ee","g":"b"},{"x":226,"y":1875,"n":"PLOD2_RAT","k":"ee","g":"o"},{"x":852,"y":1876,"n":"Cyp4a1","k":"er","g":"m"},{"x":1711,"y":1912,"n":"HMOX1_RAT","k":"ee","g":"b"},{"x":1585,"y":1939,"n":"FCERG_RAT","k":"ee","g":"b"},
{"x":663,"y":1995,"n":"D-4-Phosphopantothenate","k":"fe","g":"l"},{"x":1068,"y":2047,"n":"G3V7I5_RAT","k":"fr","g":"m"},{"x":1143,"y":2096,"n":"ACDSB_RAT","k":"fr","g":"m"},{"x":159,"y":2062,"n":"RIR2_RAT","k":"fr","g":"o"},{"x":266,"y":2062,"n":"5-Aminopentanoic acid","k":"fe","g":"o"},{"x":1614,"y":2062,"n":"RASK_RAT","k":"fr","g":"b"},{"x":1722,"y":2062,"n":"TIMP1_RAT","k":"fr","g":"b"},{"x":326,"y":2139,"n":"Ketoleucine","k":"fe","g":"o"},{"x":104,"y":2181,"n":"PLOD2_RAT","k":"fr","g":"o"},{"x":1559,"y":2181,"n":"FCERG_RAT","k":"fr","g":"b"},{"x":1776,"y":2181,"n":"Oxoglutaric acid","k":"fe","g":"b"},{"x":294,"y":2235,"n":"Dehydroascorbate","k":"fe","g":"o"},{"x":1072,"y":2254,"n":"Palmitic acid","k":"fe","g":"m"},{"x":159,"y":2301,"n":"2-Keto-6-acetamidocaproate","k":"fe","g":"o"},{"x":1614,"y":2301,"n":"HMOX1_RAT","k":"fr","g":"b"},{"x":1722,"y":2301,"n":"NOS2_RAT","k":"fr","g":"b"}
]},
"mark":{"type":"point","filled":true,"opacity":1},"encoding":{
"shape":{"field":"k","type":"nominal","legend":null,"scale":{"domain":["dr","de","er","ee","fr","fe"],"range":["M-.97,-.3H.97Q1,-.3 1,-.27V.27Q1,.3 .97,.3H-.97Q-1,.3 -1,.27V-.27Q-1,-.3 -.97,-.3Z","M-1,0A1,.29 0 1,1 1,0A1,.29 0 1,1 -1,0Z","M-.97,-.32H.97Q1,-.32 1,-.29V.29Q1,.32 .97,.32H-.97Q-1,.32 -1,.29V-.29Q-1,-.32 -.97,-.32Z","M-1,0A1,.32 0 1,1 1,0A1,.32 0 1,1 -1,0Z","M-.97,-.44H.97Q1,-.44 1,-.41V.41Q1,.44 .97,.44H-.97Q-1,.44 -1,.41V-.41Q-1,-.44 -.97,-.44Z","M-1,0A1,.44 0 1,1 1,0A1,.44 0 1,1 -1,0Z"]}},
"size":{"field":"k","type":"nominal","legend":null,"scale":{"type":"ordinal","domain":["dr","de","er","ee","fr","fe"],"range":[13689,13689,12996,12996,7744,7744]}},
"color":{"field":"g","type":"nominal","legend":null,"scale":{"domain":["o","l","m","b"],"range":["#5f8c00","#00f000","#c800c8","#3366ff"]}}}},
{"data":{"name":"nodes"},"mark":{"type":"text","fontWeight":"bold","font":"Liberation Sans","color":"#000"},"encoding":{"text":{"field":"n"},"size":{"field":"k","type":"nominal","legend":null,"scale":{"type":"ordinal","domain":["dr","de","er","ee","fr","fe"],"range":[16,12,14,13,10,10.5]}}}},
{"data":{"values":[{"x":5,"y":1325,"t":"D"},{"x":5,"y":1662,"t":"E"},{"x":5,"y":1978,"t":"F"}]},"mark":{"type":"text","align":"left","baseline":"alphabetic","fontSize":50,"fontWeight":"bold","font":"Liberation Sans","color":"#000"},"encoding":{"text":{"field":"t"}}}
]}
]}
